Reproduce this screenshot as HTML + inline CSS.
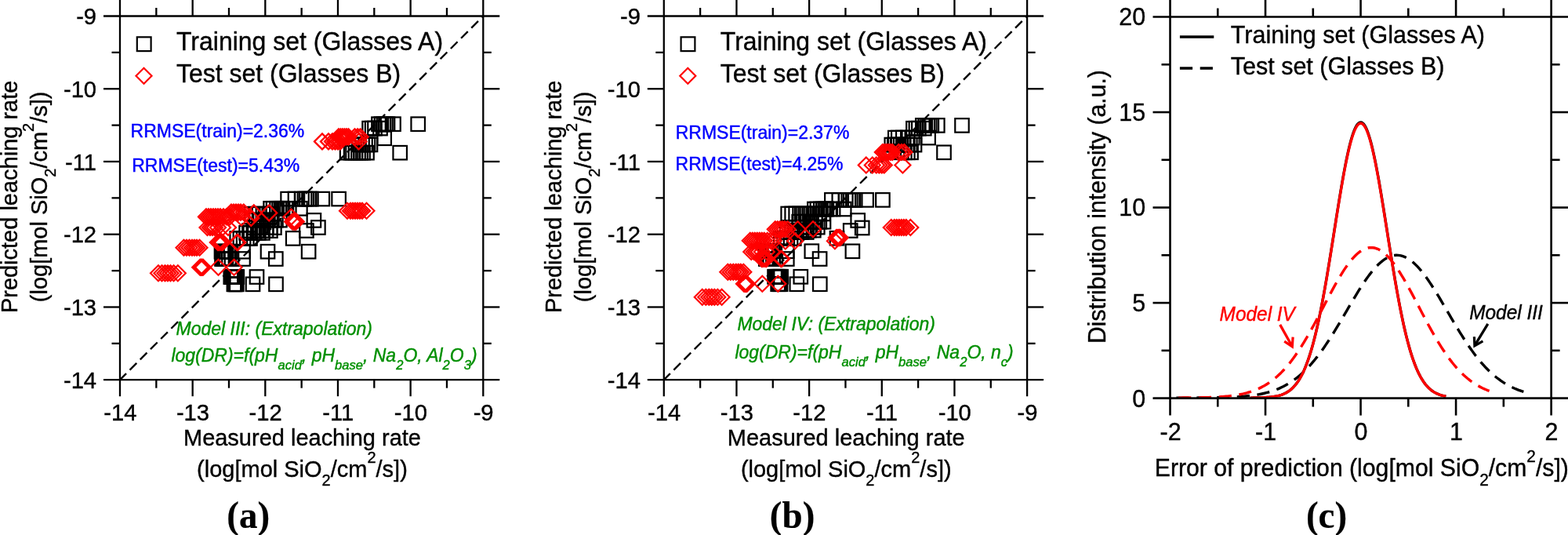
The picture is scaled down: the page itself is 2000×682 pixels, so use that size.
<!DOCTYPE html>
<html><head><meta charset="utf-8"><title>Figure</title>
<style>html,body{margin:0;padding:0;background:#fff;overflow:hidden;}svg{display:block;}</style>
</head><body>
<svg width="2000" height="682" viewBox="0 0 2000 682">
<rect width="2000" height="682" fill="#fff"/>
<line x1="153.00" y1="484.20" x2="616.30" y2="20.50" stroke="#000" stroke-width="2.4" stroke-dasharray="12.3 6.38" stroke-dashoffset="0.9"/>
<rect x="474.25" y="149.45" width="17.5" height="17.5" fill="none" stroke="#000" stroke-width="2.2"/>
<rect x="477.75" y="149.45" width="17.5" height="17.5" fill="none" stroke="#000" stroke-width="2.2"/>
<rect x="480.75" y="149.45" width="17.5" height="17.5" fill="none" stroke="#000" stroke-width="2.2"/>
<rect x="483.25" y="149.45" width="17.5" height="17.5" fill="none" stroke="#000" stroke-width="2.2"/>
<rect x="485.75" y="149.45" width="17.5" height="17.5" fill="none" stroke="#000" stroke-width="2.2"/>
<rect x="493.25" y="149.45" width="17.5" height="17.5" fill="none" stroke="#000" stroke-width="2.2"/>
<rect x="524.45" y="149.45" width="17.5" height="17.5" fill="none" stroke="#000" stroke-width="2.2"/>
<rect x="462.35" y="154.85" width="17.5" height="17.5" fill="none" stroke="#000" stroke-width="2.2"/>
<rect x="465.85" y="154.85" width="17.5" height="17.5" fill="none" stroke="#000" stroke-width="2.2"/>
<rect x="469.25" y="154.85" width="17.5" height="17.5" fill="none" stroke="#000" stroke-width="2.2"/>
<rect x="476.25" y="154.85" width="17.5" height="17.5" fill="none" stroke="#000" stroke-width="2.2"/>
<rect x="358.35" y="244.85" width="17.5" height="17.5" fill="none" stroke="#000" stroke-width="2.2"/>
<rect x="367.75" y="244.85" width="17.5" height="17.5" fill="none" stroke="#000" stroke-width="2.2"/>
<rect x="376.25" y="244.85" width="17.5" height="17.5" fill="none" stroke="#000" stroke-width="2.2"/>
<rect x="379.75" y="244.85" width="17.5" height="17.5" fill="none" stroke="#000" stroke-width="2.2"/>
<rect x="382.25" y="244.85" width="17.5" height="17.5" fill="none" stroke="#000" stroke-width="2.2"/>
<rect x="385.95" y="244.85" width="17.5" height="17.5" fill="none" stroke="#000" stroke-width="2.2"/>
<rect x="388.15" y="244.85" width="17.5" height="17.5" fill="none" stroke="#000" stroke-width="2.2"/>
<rect x="402.55" y="244.85" width="17.5" height="17.5" fill="none" stroke="#000" stroke-width="2.2"/>
<rect x="423.35" y="244.85" width="17.5" height="17.5" fill="none" stroke="#000" stroke-width="2.2"/>
<rect x="336.35" y="257.05" width="17.5" height="17.5" fill="none" stroke="#000" stroke-width="2.2"/>
<rect x="339.85" y="257.05" width="17.5" height="17.5" fill="none" stroke="#000" stroke-width="2.2"/>
<rect x="344.35" y="257.05" width="17.5" height="17.5" fill="none" stroke="#000" stroke-width="2.2"/>
<rect x="347.35" y="257.05" width="17.5" height="17.5" fill="none" stroke="#000" stroke-width="2.2"/>
<rect x="349.85" y="257.05" width="17.5" height="17.5" fill="none" stroke="#000" stroke-width="2.2"/>
<rect x="351.85" y="257.05" width="17.5" height="17.5" fill="none" stroke="#000" stroke-width="2.2"/>
<rect x="355.55" y="257.05" width="17.5" height="17.5" fill="none" stroke="#000" stroke-width="2.2"/>
<rect x="360.05" y="257.05" width="17.5" height="17.5" fill="none" stroke="#000" stroke-width="2.2"/>
<rect x="374.15" y="257.05" width="17.5" height="17.5" fill="none" stroke="#000" stroke-width="2.2"/>
<rect x="391.65" y="272.15" width="17.5" height="17.5" fill="none" stroke="#000" stroke-width="2.2"/>
<rect x="397.15" y="281.25" width="17.5" height="17.5" fill="none" stroke="#000" stroke-width="2.2"/>
<rect x="382.15" y="285.25" width="17.5" height="17.5" fill="none" stroke="#000" stroke-width="2.2"/>
<rect x="364.95" y="295.15" width="17.5" height="17.5" fill="none" stroke="#000" stroke-width="2.2"/>
<rect x="384.85" y="311.95" width="17.5" height="17.5" fill="none" stroke="#000" stroke-width="2.2"/>
<rect x="343.05" y="321.25" width="17.5" height="17.5" fill="none" stroke="#000" stroke-width="2.2"/>
<rect x="273.75" y="311.95" width="17.5" height="17.5" fill="none" stroke="#000" stroke-width="2.2"/>
<rect x="274.95" y="311.95" width="17.5" height="17.5" fill="none" stroke="#000" stroke-width="2.2"/>
<rect x="276.15" y="311.95" width="17.5" height="17.5" fill="none" stroke="#000" stroke-width="2.2"/>
<rect x="277.35" y="311.95" width="17.5" height="17.5" fill="none" stroke="#000" stroke-width="2.2"/>
<rect x="278.55" y="311.95" width="17.5" height="17.5" fill="none" stroke="#000" stroke-width="2.2"/>
<rect x="279.75" y="311.95" width="17.5" height="17.5" fill="none" stroke="#000" stroke-width="2.2"/>
<rect x="282.25" y="311.95" width="17.5" height="17.5" fill="none" stroke="#000" stroke-width="2.2"/>
<rect x="285.75" y="311.95" width="17.5" height="17.5" fill="none" stroke="#000" stroke-width="2.2"/>
<rect x="301.25" y="311.95" width="17.5" height="17.5" fill="none" stroke="#000" stroke-width="2.2"/>
<rect x="332.75" y="311.95" width="17.5" height="17.5" fill="none" stroke="#000" stroke-width="2.2"/>
<rect x="274.25" y="321.25" width="17.5" height="17.5" fill="none" stroke="#000" stroke-width="2.2"/>
<rect x="275.62" y="321.25" width="17.5" height="17.5" fill="none" stroke="#000" stroke-width="2.2"/>
<rect x="277.00" y="321.25" width="17.5" height="17.5" fill="none" stroke="#000" stroke-width="2.2"/>
<rect x="278.38" y="321.25" width="17.5" height="17.5" fill="none" stroke="#000" stroke-width="2.2"/>
<rect x="279.75" y="321.25" width="17.5" height="17.5" fill="none" stroke="#000" stroke-width="2.2"/>
<rect x="283.25" y="321.25" width="17.5" height="17.5" fill="none" stroke="#000" stroke-width="2.2"/>
<rect x="286.75" y="321.25" width="17.5" height="17.5" fill="none" stroke="#000" stroke-width="2.2"/>
<rect x="301.25" y="321.25" width="17.5" height="17.5" fill="none" stroke="#000" stroke-width="2.2"/>
<rect x="285.55" y="344.25" width="17.5" height="17.5" fill="none" stroke="#000" stroke-width="2.2"/>
<rect x="286.69" y="344.25" width="17.5" height="17.5" fill="none" stroke="#000" stroke-width="2.2"/>
<rect x="287.84" y="344.25" width="17.5" height="17.5" fill="none" stroke="#000" stroke-width="2.2"/>
<rect x="288.98" y="344.25" width="17.5" height="17.5" fill="none" stroke="#000" stroke-width="2.2"/>
<rect x="290.12" y="344.25" width="17.5" height="17.5" fill="none" stroke="#000" stroke-width="2.2"/>
<rect x="291.26" y="344.25" width="17.5" height="17.5" fill="none" stroke="#000" stroke-width="2.2"/>
<rect x="292.41" y="344.25" width="17.5" height="17.5" fill="none" stroke="#000" stroke-width="2.2"/>
<rect x="293.55" y="344.25" width="17.5" height="17.5" fill="none" stroke="#000" stroke-width="2.2"/>
<rect x="318.75" y="344.25" width="17.5" height="17.5" fill="none" stroke="#000" stroke-width="2.2"/>
<rect x="289.65" y="353.55" width="17.5" height="17.5" fill="none" stroke="#000" stroke-width="2.2"/>
<rect x="290.78" y="353.55" width="17.5" height="17.5" fill="none" stroke="#000" stroke-width="2.2"/>
<rect x="291.92" y="353.55" width="17.5" height="17.5" fill="none" stroke="#000" stroke-width="2.2"/>
<rect x="293.05" y="353.55" width="17.5" height="17.5" fill="none" stroke="#000" stroke-width="2.2"/>
<rect x="313.75" y="353.55" width="17.5" height="17.5" fill="none" stroke="#000" stroke-width="2.2"/>
<rect x="343.25" y="353.55" width="17.5" height="17.5" fill="none" stroke="#000" stroke-width="2.2"/>
<rect x="481.45" y="167.55" width="17.5" height="17.5" fill="none" stroke="#000" stroke-width="2.2"/>
<rect x="449.25" y="175.65" width="17.5" height="17.5" fill="none" stroke="#000" stroke-width="2.2"/>
<rect x="453.25" y="175.65" width="17.5" height="17.5" fill="none" stroke="#000" stroke-width="2.2"/>
<rect x="457.25" y="175.65" width="17.5" height="17.5" fill="none" stroke="#000" stroke-width="2.2"/>
<rect x="460.75" y="175.65" width="17.5" height="17.5" fill="none" stroke="#000" stroke-width="2.2"/>
<rect x="463.75" y="175.65" width="17.5" height="17.5" fill="none" stroke="#000" stroke-width="2.2"/>
<rect x="433.85" y="185.95" width="17.5" height="17.5" fill="none" stroke="#000" stroke-width="2.2"/>
<rect x="438.85" y="185.95" width="17.5" height="17.5" fill="none" stroke="#000" stroke-width="2.2"/>
<rect x="441.25" y="185.95" width="17.5" height="17.5" fill="none" stroke="#000" stroke-width="2.2"/>
<rect x="444.75" y="185.95" width="17.5" height="17.5" fill="none" stroke="#000" stroke-width="2.2"/>
<rect x="448.25" y="185.95" width="17.5" height="17.5" fill="none" stroke="#000" stroke-width="2.2"/>
<rect x="451.25" y="185.95" width="17.5" height="17.5" fill="none" stroke="#000" stroke-width="2.2"/>
<rect x="454.25" y="185.95" width="17.5" height="17.5" fill="none" stroke="#000" stroke-width="2.2"/>
<rect x="459.25" y="185.95" width="17.5" height="17.5" fill="none" stroke="#000" stroke-width="2.2"/>
<rect x="501.45" y="185.95" width="17.5" height="17.5" fill="none" stroke="#000" stroke-width="2.2"/>
<rect x="312.25" y="263.95" width="17.5" height="17.5" fill="none" stroke="#000" stroke-width="2.2"/>
<rect x="317.05" y="263.95" width="17.5" height="17.5" fill="none" stroke="#000" stroke-width="2.2"/>
<rect x="321.85" y="263.95" width="17.5" height="17.5" fill="none" stroke="#000" stroke-width="2.2"/>
<rect x="326.65" y="263.95" width="17.5" height="17.5" fill="none" stroke="#000" stroke-width="2.2"/>
<rect x="331.45" y="263.95" width="17.5" height="17.5" fill="none" stroke="#000" stroke-width="2.2"/>
<rect x="336.25" y="263.95" width="17.5" height="17.5" fill="none" stroke="#000" stroke-width="2.2"/>
<rect x="318.25" y="271.85" width="17.5" height="17.5" fill="none" stroke="#000" stroke-width="2.2"/>
<rect x="323.23" y="271.85" width="17.5" height="17.5" fill="none" stroke="#000" stroke-width="2.2"/>
<rect x="328.22" y="271.85" width="17.5" height="17.5" fill="none" stroke="#000" stroke-width="2.2"/>
<rect x="333.20" y="271.85" width="17.5" height="17.5" fill="none" stroke="#000" stroke-width="2.2"/>
<rect x="338.18" y="271.85" width="17.5" height="17.5" fill="none" stroke="#000" stroke-width="2.2"/>
<rect x="343.17" y="271.85" width="17.5" height="17.5" fill="none" stroke="#000" stroke-width="2.2"/>
<rect x="348.15" y="271.85" width="17.5" height="17.5" fill="none" stroke="#000" stroke-width="2.2"/>
<rect x="316.25" y="281.35" width="17.5" height="17.5" fill="none" stroke="#000" stroke-width="2.2"/>
<rect x="321.23" y="281.35" width="17.5" height="17.5" fill="none" stroke="#000" stroke-width="2.2"/>
<rect x="326.21" y="281.35" width="17.5" height="17.5" fill="none" stroke="#000" stroke-width="2.2"/>
<rect x="331.19" y="281.35" width="17.5" height="17.5" fill="none" stroke="#000" stroke-width="2.2"/>
<rect x="336.17" y="281.35" width="17.5" height="17.5" fill="none" stroke="#000" stroke-width="2.2"/>
<rect x="341.15" y="281.35" width="17.5" height="17.5" fill="none" stroke="#000" stroke-width="2.2"/>
<rect x="309.25" y="285.35" width="17.5" height="17.5" fill="none" stroke="#000" stroke-width="2.2"/>
<rect x="314.63" y="285.35" width="17.5" height="17.5" fill="none" stroke="#000" stroke-width="2.2"/>
<rect x="320.01" y="285.35" width="17.5" height="17.5" fill="none" stroke="#000" stroke-width="2.2"/>
<rect x="325.39" y="285.35" width="17.5" height="17.5" fill="none" stroke="#000" stroke-width="2.2"/>
<rect x="330.77" y="285.35" width="17.5" height="17.5" fill="none" stroke="#000" stroke-width="2.2"/>
<rect x="336.15" y="285.35" width="17.5" height="17.5" fill="none" stroke="#000" stroke-width="2.2"/>
<rect x="305.35" y="288.15" width="17.5" height="17.5" fill="none" stroke="#000" stroke-width="2.2"/>
<rect x="310.58" y="288.15" width="17.5" height="17.5" fill="none" stroke="#000" stroke-width="2.2"/>
<rect x="315.80" y="288.15" width="17.5" height="17.5" fill="none" stroke="#000" stroke-width="2.2"/>
<rect x="321.02" y="288.15" width="17.5" height="17.5" fill="none" stroke="#000" stroke-width="2.2"/>
<rect x="326.25" y="288.15" width="17.5" height="17.5" fill="none" stroke="#000" stroke-width="2.2"/>
<rect x="293.45" y="295.25" width="17.5" height="17.5" fill="none" stroke="#000" stroke-width="2.2"/>
<rect x="297.65" y="295.25" width="17.5" height="17.5" fill="none" stroke="#000" stroke-width="2.2"/>
<rect x="301.85" y="295.25" width="17.5" height="17.5" fill="none" stroke="#000" stroke-width="2.2"/>
<rect x="306.05" y="295.25" width="17.5" height="17.5" fill="none" stroke="#000" stroke-width="2.2"/>
<rect x="310.25" y="295.25" width="17.5" height="17.5" fill="none" stroke="#000" stroke-width="2.2"/>
<path d="M192.00 348.30L202.00 338.30L212.00 348.30L202.00 358.30Z" fill="none" stroke="#f00" stroke-width="2.2"/>
<path d="M196.50 348.30L206.50 338.30L216.50 348.30L206.50 358.30Z" fill="none" stroke="#f00" stroke-width="2.2"/>
<path d="M200.50 348.30L210.50 338.30L220.50 348.30L210.50 358.30Z" fill="none" stroke="#f00" stroke-width="2.2"/>
<path d="M204.00 348.30L214.00 338.30L224.00 348.30L214.00 358.30Z" fill="none" stroke="#f00" stroke-width="2.2"/>
<path d="M207.50 348.30L217.50 338.30L227.50 348.30L217.50 358.30Z" fill="none" stroke="#f00" stroke-width="2.2"/>
<path d="M211.50 348.30L221.50 338.30L231.50 348.30L221.50 358.30Z" fill="none" stroke="#f00" stroke-width="2.2"/>
<path d="M216.80 348.30L226.80 338.30L236.80 348.30L226.80 358.30Z" fill="none" stroke="#f00" stroke-width="2.2"/>
<path d="M245.20 340.80L255.20 330.80L265.20 340.80L255.20 350.80Z" fill="none" stroke="#f00" stroke-width="2.2"/>
<path d="M246.50 340.80L256.50 330.80L266.50 340.80L256.50 350.80Z" fill="none" stroke="#f00" stroke-width="2.2"/>
<path d="M247.80 340.80L257.80 330.80L267.80 340.80L257.80 350.80Z" fill="none" stroke="#f00" stroke-width="2.2"/>
<path d="M249.00 340.80L259.00 330.80L269.00 340.80L259.00 350.80Z" fill="none" stroke="#f00" stroke-width="2.2"/>
<path d="M268.50 340.80L278.50 330.80L288.50 340.80L278.50 350.80Z" fill="none" stroke="#f00" stroke-width="2.2"/>
<path d="M288.50 340.80L298.50 330.80L308.50 340.80L298.50 350.80Z" fill="none" stroke="#f00" stroke-width="2.2"/>
<path d="M224.50 315.70L234.50 305.70L244.50 315.70L234.50 325.70Z" fill="none" stroke="#f00" stroke-width="2.2"/>
<path d="M228.00 315.70L238.00 305.70L248.00 315.70L238.00 325.70Z" fill="none" stroke="#f00" stroke-width="2.2"/>
<path d="M231.50 315.70L241.50 305.70L251.50 315.70L241.50 325.70Z" fill="none" stroke="#f00" stroke-width="2.2"/>
<path d="M235.00 315.70L245.00 305.70L255.00 315.70L245.00 325.70Z" fill="none" stroke="#f00" stroke-width="2.2"/>
<path d="M238.00 315.70L248.00 305.70L258.00 315.70L248.00 325.70Z" fill="none" stroke="#f00" stroke-width="2.2"/>
<path d="M241.00 315.70L251.00 305.70L261.00 315.70L251.00 325.70Z" fill="none" stroke="#f00" stroke-width="2.2"/>
<path d="M244.50 315.70L254.50 305.70L264.50 315.70L254.50 325.70Z" fill="none" stroke="#f00" stroke-width="2.2"/>
<path d="M267.80 309.00L277.80 299.00L287.80 309.00L277.80 319.00Z" fill="none" stroke="#f00" stroke-width="2.2"/>
<path d="M269.50 309.00L279.50 299.00L289.50 309.00L279.50 319.00Z" fill="none" stroke="#f00" stroke-width="2.2"/>
<path d="M272.00 309.00L282.00 299.00L292.00 309.00L282.00 319.00Z" fill="none" stroke="#f00" stroke-width="2.2"/>
<path d="M273.80 309.00L283.80 299.00L293.80 309.00L283.80 319.00Z" fill="none" stroke="#f00" stroke-width="2.2"/>
<path d="M292.20 309.00L302.20 299.00L312.20 309.00L302.20 319.00Z" fill="none" stroke="#f00" stroke-width="2.2"/>
<path d="M293.40 309.00L303.40 299.00L313.40 309.00L303.40 319.00Z" fill="none" stroke="#f00" stroke-width="2.2"/>
<path d="M254.50 290.00L264.50 280.00L274.50 290.00L264.50 300.00Z" fill="none" stroke="#f00" stroke-width="2.2"/>
<path d="M258.00 290.00L268.00 280.00L278.00 290.00L268.00 300.00Z" fill="none" stroke="#f00" stroke-width="2.2"/>
<path d="M261.00 290.00L271.00 280.00L281.00 290.00L271.00 300.00Z" fill="none" stroke="#f00" stroke-width="2.2"/>
<path d="M264.00 290.00L274.00 280.00L284.00 290.00L274.00 300.00Z" fill="none" stroke="#f00" stroke-width="2.2"/>
<path d="M268.00 290.00L278.00 280.00L288.00 290.00L278.00 300.00Z" fill="none" stroke="#f00" stroke-width="2.2"/>
<path d="M274.00 290.00L284.00 280.00L294.00 290.00L284.00 300.00Z" fill="none" stroke="#f00" stroke-width="2.2"/>
<path d="M281.00 290.00L291.00 280.00L301.00 290.00L291.00 300.00Z" fill="none" stroke="#f00" stroke-width="2.2"/>
<path d="M253.00 276.40L263.00 266.40L273.00 276.40L263.00 286.40Z" fill="none" stroke="#f00" stroke-width="2.2"/>
<path d="M256.00 276.40L266.00 266.40L276.00 276.40L266.00 286.40Z" fill="none" stroke="#f00" stroke-width="2.2"/>
<path d="M259.00 276.40L269.00 266.40L279.00 276.40L269.00 286.40Z" fill="none" stroke="#f00" stroke-width="2.2"/>
<path d="M262.00 276.40L272.00 266.40L282.00 276.40L272.00 286.40Z" fill="none" stroke="#f00" stroke-width="2.2"/>
<path d="M265.00 276.40L275.00 266.40L285.00 276.40L275.00 286.40Z" fill="none" stroke="#f00" stroke-width="2.2"/>
<path d="M268.00 276.40L278.00 266.40L288.00 276.40L278.00 286.40Z" fill="none" stroke="#f00" stroke-width="2.2"/>
<path d="M271.00 276.40L281.00 266.40L291.00 276.40L281.00 286.40Z" fill="none" stroke="#f00" stroke-width="2.2"/>
<path d="M275.00 276.40L285.00 266.40L295.00 276.40L285.00 286.40Z" fill="none" stroke="#f00" stroke-width="2.2"/>
<path d="M279.00 276.40L289.00 266.40L299.00 276.40L289.00 286.40Z" fill="none" stroke="#f00" stroke-width="2.2"/>
<path d="M283.00 276.40L293.00 266.40L303.00 276.40L293.00 286.40Z" fill="none" stroke="#f00" stroke-width="2.2"/>
<path d="M298.00 277.50L308.00 267.50L318.00 277.50L308.00 287.50Z" fill="none" stroke="#f00" stroke-width="2.2"/>
<path d="M310.30 277.90L320.30 267.90L330.30 277.90L320.30 287.90Z" fill="none" stroke="#f00" stroke-width="2.2"/>
<path d="M285.00 270.60L295.00 260.60L305.00 270.60L295.00 280.60Z" fill="none" stroke="#f00" stroke-width="2.2"/>
<path d="M288.00 270.60L298.00 260.60L308.00 270.60L298.00 280.60Z" fill="none" stroke="#f00" stroke-width="2.2"/>
<path d="M291.00 270.60L301.00 260.60L311.00 270.60L301.00 280.60Z" fill="none" stroke="#f00" stroke-width="2.2"/>
<path d="M294.00 270.60L304.00 260.60L314.00 270.60L304.00 280.60Z" fill="none" stroke="#f00" stroke-width="2.2"/>
<path d="M297.00 270.60L307.00 260.60L317.00 270.60L307.00 280.60Z" fill="none" stroke="#f00" stroke-width="2.2"/>
<path d="M300.80 270.60L310.80 260.60L320.80 270.60L310.80 280.60Z" fill="none" stroke="#f00" stroke-width="2.2"/>
<path d="M313.80 271.40L323.80 261.40L333.80 271.40L323.80 281.40Z" fill="none" stroke="#f00" stroke-width="2.2"/>
<path d="M333.20 271.40L343.20 261.40L353.20 271.40L343.20 281.40Z" fill="none" stroke="#f00" stroke-width="2.2"/>
<path d="M433.00 268.70L443.00 258.70L453.00 268.70L443.00 278.70Z" fill="none" stroke="#f00" stroke-width="2.2"/>
<path d="M437.00 268.70L447.00 258.70L457.00 268.70L447.00 278.70Z" fill="none" stroke="#f00" stroke-width="2.2"/>
<path d="M440.00 268.70L450.00 258.70L460.00 268.70L450.00 278.70Z" fill="none" stroke="#f00" stroke-width="2.2"/>
<path d="M443.00 268.70L453.00 258.70L463.00 268.70L453.00 278.70Z" fill="none" stroke="#f00" stroke-width="2.2"/>
<path d="M446.00 268.70L456.00 258.70L466.00 268.70L456.00 278.70Z" fill="none" stroke="#f00" stroke-width="2.2"/>
<path d="M449.00 268.70L459.00 258.70L469.00 268.70L459.00 278.70Z" fill="none" stroke="#f00" stroke-width="2.2"/>
<path d="M452.00 268.70L462.00 258.70L472.00 268.70L462.00 278.70Z" fill="none" stroke="#f00" stroke-width="2.2"/>
<path d="M457.50 268.70L467.50 258.70L477.50 268.70L467.50 278.70Z" fill="none" stroke="#f00" stroke-width="2.2"/>
<path d="M401.00 180.40L411.00 170.40L421.00 180.40L411.00 190.40Z" fill="none" stroke="#f00" stroke-width="2.2"/>
<path d="M409.00 180.40L419.00 170.40L429.00 180.40L419.00 190.40Z" fill="none" stroke="#f00" stroke-width="2.2"/>
<path d="M414.00 180.40L424.00 170.40L434.00 180.40L424.00 190.40Z" fill="none" stroke="#f00" stroke-width="2.2"/>
<path d="M417.50 180.40L427.50 170.40L437.50 180.40L427.50 190.40Z" fill="none" stroke="#f00" stroke-width="2.2"/>
<path d="M421.00 180.40L431.00 170.40L441.00 180.40L431.00 190.40Z" fill="none" stroke="#f00" stroke-width="2.2"/>
<path d="M424.00 180.40L434.00 170.40L444.00 180.40L434.00 190.40Z" fill="none" stroke="#f00" stroke-width="2.2"/>
<path d="M447.60 180.40L457.60 170.40L467.60 180.40L457.60 190.40Z" fill="none" stroke="#f00" stroke-width="2.2"/>
<path d="M422.00 174.40L432.00 164.40L442.00 174.40L432.00 184.40Z" fill="none" stroke="#f00" stroke-width="2.2"/>
<path d="M424.50 174.40L434.50 164.40L444.50 174.40L434.50 184.40Z" fill="none" stroke="#f00" stroke-width="2.2"/>
<path d="M427.00 174.40L437.00 164.40L447.00 174.40L437.00 184.40Z" fill="none" stroke="#f00" stroke-width="2.2"/>
<path d="M429.50 174.40L439.50 164.40L449.50 174.40L439.50 184.40Z" fill="none" stroke="#f00" stroke-width="2.2"/>
<path d="M432.00 174.40L442.00 164.40L452.00 174.40L442.00 184.40Z" fill="none" stroke="#f00" stroke-width="2.2"/>
<path d="M434.50 174.40L444.50 164.40L454.50 174.40L444.50 184.40Z" fill="none" stroke="#f00" stroke-width="2.2"/>
<path d="M442.50 174.40L452.50 164.40L462.50 174.40L452.50 184.40Z" fill="none" stroke="#f00" stroke-width="2.2"/>
<path d="M446.20 174.40L456.20 164.40L466.20 174.40L456.20 184.40Z" fill="none" stroke="#f00" stroke-width="2.2"/>
<path d="M449.60 174.40L459.60 164.40L469.60 174.40L459.60 184.40Z" fill="none" stroke="#f00" stroke-width="2.2"/>
<path d="M361.40 276.50L371.40 266.50L381.40 276.50L371.40 286.50Z" fill="none" stroke="#f00" stroke-width="2.2"/>
<path d="M363.00 282.50L373.00 272.50L383.00 282.50L373.00 292.50Z" fill="none" stroke="#f00" stroke-width="2.2"/>
<path d="M364.20 282.50L374.20 272.50L384.20 282.50L374.20 292.50Z" fill="none" stroke="#f00" stroke-width="2.2"/>
<path d="M365.40 282.50L375.40 272.50L385.40 282.50L375.40 292.50Z" fill="none" stroke="#f00" stroke-width="2.2"/>
<path d="M366.60 282.50L376.60 272.50L386.60 282.50L376.60 292.50Z" fill="none" stroke="#f00" stroke-width="2.2"/>
<path d="M367.80 282.50L377.80 272.50L387.80 282.50L377.80 292.50Z" fill="none" stroke="#f00" stroke-width="2.2"/>
<line x1="132.00" y1="20.50" x2="637.30" y2="20.50" stroke="#000" stroke-width="2.3" />
<line x1="132.00" y1="484.20" x2="637.30" y2="484.20" stroke="#000" stroke-width="2.3" />
<line x1="153.00" y1="-0.50" x2="153.00" y2="505.20" stroke="#000" stroke-width="2.3" />
<line x1="616.30" y1="-0.50" x2="616.30" y2="505.20" stroke="#000" stroke-width="2.3" />
<line x1="199.33" y1="10.00" x2="199.33" y2="20.50" stroke="#000" stroke-width="2.3" />
<line x1="199.33" y1="484.20" x2="199.33" y2="494.70" stroke="#000" stroke-width="2.3" />
<line x1="245.66" y1="-0.50" x2="245.66" y2="20.50" stroke="#000" stroke-width="2.3" />
<line x1="245.66" y1="484.20" x2="245.66" y2="505.20" stroke="#000" stroke-width="2.3" />
<line x1="291.99" y1="10.00" x2="291.99" y2="20.50" stroke="#000" stroke-width="2.3" />
<line x1="291.99" y1="484.20" x2="291.99" y2="494.70" stroke="#000" stroke-width="2.3" />
<line x1="338.32" y1="-0.50" x2="338.32" y2="20.50" stroke="#000" stroke-width="2.3" />
<line x1="338.32" y1="484.20" x2="338.32" y2="505.20" stroke="#000" stroke-width="2.3" />
<line x1="384.65" y1="10.00" x2="384.65" y2="20.50" stroke="#000" stroke-width="2.3" />
<line x1="384.65" y1="484.20" x2="384.65" y2="494.70" stroke="#000" stroke-width="2.3" />
<line x1="430.98" y1="-0.50" x2="430.98" y2="20.50" stroke="#000" stroke-width="2.3" />
<line x1="430.98" y1="484.20" x2="430.98" y2="505.20" stroke="#000" stroke-width="2.3" />
<line x1="477.31" y1="10.00" x2="477.31" y2="20.50" stroke="#000" stroke-width="2.3" />
<line x1="477.31" y1="484.20" x2="477.31" y2="494.70" stroke="#000" stroke-width="2.3" />
<line x1="523.64" y1="-0.50" x2="523.64" y2="20.50" stroke="#000" stroke-width="2.3" />
<line x1="523.64" y1="484.20" x2="523.64" y2="505.20" stroke="#000" stroke-width="2.3" />
<line x1="569.97" y1="10.00" x2="569.97" y2="20.50" stroke="#000" stroke-width="2.3" />
<line x1="569.97" y1="484.20" x2="569.97" y2="494.70" stroke="#000" stroke-width="2.3" />
<line x1="142.50" y1="66.87" x2="153.00" y2="66.87" stroke="#000" stroke-width="2.3" />
<line x1="616.30" y1="66.87" x2="626.80" y2="66.87" stroke="#000" stroke-width="2.3" />
<line x1="132.00" y1="113.24" x2="153.00" y2="113.24" stroke="#000" stroke-width="2.3" />
<line x1="616.30" y1="113.24" x2="637.30" y2="113.24" stroke="#000" stroke-width="2.3" />
<line x1="142.50" y1="159.61" x2="153.00" y2="159.61" stroke="#000" stroke-width="2.3" />
<line x1="616.30" y1="159.61" x2="626.80" y2="159.61" stroke="#000" stroke-width="2.3" />
<line x1="132.00" y1="205.98" x2="153.00" y2="205.98" stroke="#000" stroke-width="2.3" />
<line x1="616.30" y1="205.98" x2="637.30" y2="205.98" stroke="#000" stroke-width="2.3" />
<line x1="142.50" y1="252.35" x2="153.00" y2="252.35" stroke="#000" stroke-width="2.3" />
<line x1="616.30" y1="252.35" x2="626.80" y2="252.35" stroke="#000" stroke-width="2.3" />
<line x1="132.00" y1="298.72" x2="153.00" y2="298.72" stroke="#000" stroke-width="2.3" />
<line x1="616.30" y1="298.72" x2="637.30" y2="298.72" stroke="#000" stroke-width="2.3" />
<line x1="142.50" y1="345.09" x2="153.00" y2="345.09" stroke="#000" stroke-width="2.3" />
<line x1="616.30" y1="345.09" x2="626.80" y2="345.09" stroke="#000" stroke-width="2.3" />
<line x1="132.00" y1="391.46" x2="153.00" y2="391.46" stroke="#000" stroke-width="2.3" />
<line x1="616.30" y1="391.46" x2="637.30" y2="391.46" stroke="#000" stroke-width="2.3" />
<line x1="142.50" y1="437.83" x2="153.00" y2="437.83" stroke="#000" stroke-width="2.3" />
<line x1="616.30" y1="437.83" x2="626.80" y2="437.83" stroke="#000" stroke-width="2.3" />
<text x="0" y="0" text-anchor="end" fill="#000" stroke="#000" stroke-width="0.38" style="font-family:'Liberation Sans',sans-serif;font-size:29.2px;" transform="translate(123.10 31.10) scale(1 1.01)">-9</text>
<text x="0" y="0" text-anchor="end" fill="#000" stroke="#000" stroke-width="0.38" style="font-family:'Liberation Sans',sans-serif;font-size:29.2px;" transform="translate(123.10 123.84) scale(1 1.01)">-10</text>
<text x="0" y="0" text-anchor="end" fill="#000" stroke="#000" stroke-width="0.38" style="font-family:'Liberation Sans',sans-serif;font-size:29.2px;" transform="translate(123.10 216.58) scale(1 1.01)">-11</text>
<text x="0" y="0" text-anchor="end" fill="#000" stroke="#000" stroke-width="0.38" style="font-family:'Liberation Sans',sans-serif;font-size:29.2px;" transform="translate(123.10 309.32) scale(1 1.01)">-12</text>
<text x="0" y="0" text-anchor="end" fill="#000" stroke="#000" stroke-width="0.38" style="font-family:'Liberation Sans',sans-serif;font-size:29.2px;" transform="translate(123.10 402.06) scale(1 1.01)">-13</text>
<text x="0" y="0" text-anchor="end" fill="#000" stroke="#000" stroke-width="0.38" style="font-family:'Liberation Sans',sans-serif;font-size:29.2px;" transform="translate(123.10 494.80) scale(1 1.01)">-14</text>
<text x="0" y="0" text-anchor="middle" fill="#000" stroke="#000" stroke-width="0.38" style="font-family:'Liberation Sans',sans-serif;font-size:29.2px;" transform="translate(153.30 536.20) scale(1 1.01)">-14</text>
<text x="0" y="0" text-anchor="middle" fill="#000" stroke="#000" stroke-width="0.38" style="font-family:'Liberation Sans',sans-serif;font-size:29.2px;" transform="translate(245.96 536.20) scale(1 1.01)">-13</text>
<text x="0" y="0" text-anchor="middle" fill="#000" stroke="#000" stroke-width="0.38" style="font-family:'Liberation Sans',sans-serif;font-size:29.2px;" transform="translate(338.62 536.20) scale(1 1.01)">-12</text>
<text x="0" y="0" text-anchor="middle" fill="#000" stroke="#000" stroke-width="0.38" style="font-family:'Liberation Sans',sans-serif;font-size:29.2px;" transform="translate(431.28 536.20) scale(1 1.01)">-11</text>
<text x="0" y="0" text-anchor="middle" fill="#000" stroke="#000" stroke-width="0.38" style="font-family:'Liberation Sans',sans-serif;font-size:29.2px;" transform="translate(523.94 536.20) scale(1 1.01)">-10</text>
<text x="0" y="0" text-anchor="middle" fill="#000" stroke="#000" stroke-width="0.38" style="font-family:'Liberation Sans',sans-serif;font-size:29.2px;" transform="translate(616.60 536.20) scale(1 1.01)">-9</text>
<text x="0" y="0" text-anchor="middle" fill="#000" stroke="#000" stroke-width="0.38" style="font-family:'Liberation Sans',sans-serif;font-size:29px;" transform="translate(385.45 567.50) scale(1 1.035)">Measured leaching rate</text>
<text x="0" y="0" text-anchor="middle" fill="#000" stroke="#000" stroke-width="0.38" style="font-family:'Liberation Sans',sans-serif;font-size:29px;" transform="translate(385.45 607.50) scale(1 1.035)">(log[mol SiO<tspan font-size="20.0" dy="10.9">2</tspan><tspan dy="-10.9">/cm</tspan><tspan font-size="20.0" dy="-16.6">2</tspan><tspan dy="16.6">/s])</tspan></text>
<text x="0" y="0" text-anchor="middle" fill="#000" stroke="#000" stroke-width="0.38" style="font-family:'Liberation Sans',sans-serif;font-size:29px;" transform="translate(21.90 250.85) rotate(-90) scale(1 1.035)">Predicted leaching rate</text>
<text x="0" y="0" text-anchor="middle" fill="#000" stroke="#000" stroke-width="0.38" style="font-family:'Liberation Sans',sans-serif;font-size:29px;" transform="translate(59.80 250.85) rotate(-90) scale(1 1.035)">(log[mol SiO<tspan font-size="20.0" dy="10.9">2</tspan><tspan dy="-10.9">/cm</tspan><tspan font-size="20.0" dy="-16.6">2</tspan><tspan dy="16.6">/s])</tspan></text>
<rect x="174.80" y="47.30" width="17.8" height="17.8" fill="none" stroke="#000" stroke-width="2.2"/>
<path d="M173.50 96.80L183.50 86.80L193.50 96.80L183.50 106.80Z" fill="none" stroke="#f00" stroke-width="2.2"/>
<text x="0" y="0" text-anchor="start" fill="#000" stroke="#000" stroke-width="0.38" style="font-family:'Liberation Sans',sans-serif;font-size:32px;" transform="translate(225.00 64.30) scale(1 1.035)">Training set (Glasses A)</text>
<text x="0" y="0" text-anchor="start" fill="#000" stroke="#000" stroke-width="0.38" style="font-family:'Liberation Sans',sans-serif;font-size:32px;" transform="translate(225.00 105.20) scale(1 1.035)">Test set (Glasses B)</text>
<text x="0" y="0" text-anchor="start" fill="#0000ff" stroke="#0000ff" stroke-width="0.45" style="font-family:'Liberation Sans',sans-serif;font-size:23px;" transform="translate(166.60 175.30) scale(1 1.035)">RRMSE(train)=2.36%</text>
<text x="0" y="0" text-anchor="start" fill="#0000ff" stroke="#0000ff" stroke-width="0.45" style="font-family:'Liberation Sans',sans-serif;font-size:23px;" transform="translate(168.20 218.80) scale(1 1.035)">RRMSE(test)=5.43%</text>
<text x="0" y="0" text-anchor="start" fill="#008f00" stroke="#008f00" stroke-width="0.4" style="font-family:'Liberation Sans',sans-serif;font-size:23px;font-style:italic" transform="translate(224.60 426.60) scale(1 1.035)">Model III: (Extrapolation)</text>
<text x="0" y="0" text-anchor="start" fill="#008f00" stroke="#008f00" stroke-width="0.4" style="font-family:'Liberation Sans',sans-serif;font-size:23px;font-style:italic" transform="translate(218.40 461.40) scale(1 1.035)">log(DR)=f(pH<tspan font-size="16.6" dy="9.3">acid</tspan><tspan dy="-9.3">, pH</tspan><tspan font-size="16.6" dy="9.3">base</tspan><tspan dy="-9.3">, Na</tspan><tspan font-size="16.6" dy="9.3">2</tspan><tspan dy="-9.3">O, Al</tspan><tspan font-size="16.6" dy="9.3">2</tspan><tspan dy="-9.3">O</tspan><tspan font-size="16.6" dy="9.3">3</tspan><tspan dy="-9.3">)</tspan></text>
<text x="0" y="0" text-anchor="middle" fill="#000" stroke="#000" stroke-width="0.2" style="font-family:'Liberation Serif',serif;font-size:47px;font-weight:bold" transform="translate(316.75 672.70) scale(1 1.02)">(a)</text>
<line x1="846.80" y1="484.20" x2="1310.10" y2="20.50" stroke="#000" stroke-width="2.4" stroke-dasharray="12.3 6.38" stroke-dashoffset="0.9"/>
<rect x="1168.05" y="151.15" width="17.5" height="17.5" fill="none" stroke="#000" stroke-width="2.2"/>
<rect x="1171.55" y="151.15" width="17.5" height="17.5" fill="none" stroke="#000" stroke-width="2.2"/>
<rect x="1174.55" y="151.15" width="17.5" height="17.5" fill="none" stroke="#000" stroke-width="2.2"/>
<rect x="1177.05" y="151.15" width="17.5" height="17.5" fill="none" stroke="#000" stroke-width="2.2"/>
<rect x="1179.55" y="151.15" width="17.5" height="17.5" fill="none" stroke="#000" stroke-width="2.2"/>
<rect x="1187.05" y="151.15" width="17.5" height="17.5" fill="none" stroke="#000" stroke-width="2.2"/>
<rect x="1218.25" y="151.15" width="17.5" height="17.5" fill="none" stroke="#000" stroke-width="2.2"/>
<rect x="1156.15" y="154.95" width="17.5" height="17.5" fill="none" stroke="#000" stroke-width="2.2"/>
<rect x="1159.65" y="154.95" width="17.5" height="17.5" fill="none" stroke="#000" stroke-width="2.2"/>
<rect x="1163.05" y="154.95" width="17.5" height="17.5" fill="none" stroke="#000" stroke-width="2.2"/>
<rect x="1170.05" y="154.95" width="17.5" height="17.5" fill="none" stroke="#000" stroke-width="2.2"/>
<rect x="1052.15" y="246.15" width="17.5" height="17.5" fill="none" stroke="#000" stroke-width="2.2"/>
<rect x="1061.55" y="246.15" width="17.5" height="17.5" fill="none" stroke="#000" stroke-width="2.2"/>
<rect x="1070.05" y="246.15" width="17.5" height="17.5" fill="none" stroke="#000" stroke-width="2.2"/>
<rect x="1073.55" y="246.15" width="17.5" height="17.5" fill="none" stroke="#000" stroke-width="2.2"/>
<rect x="1076.05" y="246.15" width="17.5" height="17.5" fill="none" stroke="#000" stroke-width="2.2"/>
<rect x="1079.75" y="246.15" width="17.5" height="17.5" fill="none" stroke="#000" stroke-width="2.2"/>
<rect x="1081.95" y="246.15" width="17.5" height="17.5" fill="none" stroke="#000" stroke-width="2.2"/>
<rect x="1096.35" y="246.15" width="17.5" height="17.5" fill="none" stroke="#000" stroke-width="2.2"/>
<rect x="1117.15" y="246.15" width="17.5" height="17.5" fill="none" stroke="#000" stroke-width="2.2"/>
<rect x="1030.15" y="257.75" width="17.5" height="17.5" fill="none" stroke="#000" stroke-width="2.2"/>
<rect x="1033.65" y="257.75" width="17.5" height="17.5" fill="none" stroke="#000" stroke-width="2.2"/>
<rect x="1038.15" y="257.75" width="17.5" height="17.5" fill="none" stroke="#000" stroke-width="2.2"/>
<rect x="1041.15" y="257.75" width="17.5" height="17.5" fill="none" stroke="#000" stroke-width="2.2"/>
<rect x="1043.65" y="257.75" width="17.5" height="17.5" fill="none" stroke="#000" stroke-width="2.2"/>
<rect x="1045.65" y="257.75" width="17.5" height="17.5" fill="none" stroke="#000" stroke-width="2.2"/>
<rect x="1049.35" y="257.75" width="17.5" height="17.5" fill="none" stroke="#000" stroke-width="2.2"/>
<rect x="1053.85" y="257.75" width="17.5" height="17.5" fill="none" stroke="#000" stroke-width="2.2"/>
<rect x="1067.95" y="257.75" width="17.5" height="17.5" fill="none" stroke="#000" stroke-width="2.2"/>
<rect x="1085.45" y="272.25" width="17.5" height="17.5" fill="none" stroke="#000" stroke-width="2.2"/>
<rect x="1090.95" y="281.75" width="17.5" height="17.5" fill="none" stroke="#000" stroke-width="2.2"/>
<rect x="1075.95" y="285.25" width="17.5" height="17.5" fill="none" stroke="#000" stroke-width="2.2"/>
<rect x="1058.75" y="294.95" width="17.5" height="17.5" fill="none" stroke="#000" stroke-width="2.2"/>
<rect x="1078.65" y="311.55" width="17.5" height="17.5" fill="none" stroke="#000" stroke-width="2.2"/>
<rect x="1036.85" y="321.25" width="17.5" height="17.5" fill="none" stroke="#000" stroke-width="2.2"/>
<rect x="967.55" y="311.45" width="17.5" height="17.5" fill="none" stroke="#000" stroke-width="2.2"/>
<rect x="968.75" y="311.45" width="17.5" height="17.5" fill="none" stroke="#000" stroke-width="2.2"/>
<rect x="969.95" y="311.45" width="17.5" height="17.5" fill="none" stroke="#000" stroke-width="2.2"/>
<rect x="971.15" y="311.45" width="17.5" height="17.5" fill="none" stroke="#000" stroke-width="2.2"/>
<rect x="972.35" y="311.45" width="17.5" height="17.5" fill="none" stroke="#000" stroke-width="2.2"/>
<rect x="973.55" y="311.45" width="17.5" height="17.5" fill="none" stroke="#000" stroke-width="2.2"/>
<rect x="976.05" y="311.45" width="17.5" height="17.5" fill="none" stroke="#000" stroke-width="2.2"/>
<rect x="979.55" y="311.45" width="17.5" height="17.5" fill="none" stroke="#000" stroke-width="2.2"/>
<rect x="995.05" y="311.45" width="17.5" height="17.5" fill="none" stroke="#000" stroke-width="2.2"/>
<rect x="1026.55" y="311.45" width="17.5" height="17.5" fill="none" stroke="#000" stroke-width="2.2"/>
<rect x="968.05" y="321.25" width="17.5" height="17.5" fill="none" stroke="#000" stroke-width="2.2"/>
<rect x="969.42" y="321.25" width="17.5" height="17.5" fill="none" stroke="#000" stroke-width="2.2"/>
<rect x="970.80" y="321.25" width="17.5" height="17.5" fill="none" stroke="#000" stroke-width="2.2"/>
<rect x="972.17" y="321.25" width="17.5" height="17.5" fill="none" stroke="#000" stroke-width="2.2"/>
<rect x="973.55" y="321.25" width="17.5" height="17.5" fill="none" stroke="#000" stroke-width="2.2"/>
<rect x="977.05" y="321.25" width="17.5" height="17.5" fill="none" stroke="#000" stroke-width="2.2"/>
<rect x="980.55" y="321.25" width="17.5" height="17.5" fill="none" stroke="#000" stroke-width="2.2"/>
<rect x="995.05" y="321.25" width="17.5" height="17.5" fill="none" stroke="#000" stroke-width="2.2"/>
<rect x="979.35" y="344.05" width="17.5" height="17.5" fill="none" stroke="#000" stroke-width="2.2"/>
<rect x="980.49" y="344.05" width="17.5" height="17.5" fill="none" stroke="#000" stroke-width="2.2"/>
<rect x="981.64" y="344.05" width="17.5" height="17.5" fill="none" stroke="#000" stroke-width="2.2"/>
<rect x="982.78" y="344.05" width="17.5" height="17.5" fill="none" stroke="#000" stroke-width="2.2"/>
<rect x="983.92" y="344.05" width="17.5" height="17.5" fill="none" stroke="#000" stroke-width="2.2"/>
<rect x="985.06" y="344.05" width="17.5" height="17.5" fill="none" stroke="#000" stroke-width="2.2"/>
<rect x="986.21" y="344.05" width="17.5" height="17.5" fill="none" stroke="#000" stroke-width="2.2"/>
<rect x="987.35" y="344.05" width="17.5" height="17.5" fill="none" stroke="#000" stroke-width="2.2"/>
<rect x="1012.55" y="344.05" width="17.5" height="17.5" fill="none" stroke="#000" stroke-width="2.2"/>
<rect x="983.45" y="353.45" width="17.5" height="17.5" fill="none" stroke="#000" stroke-width="2.2"/>
<rect x="984.58" y="353.45" width="17.5" height="17.5" fill="none" stroke="#000" stroke-width="2.2"/>
<rect x="985.72" y="353.45" width="17.5" height="17.5" fill="none" stroke="#000" stroke-width="2.2"/>
<rect x="986.85" y="353.45" width="17.5" height="17.5" fill="none" stroke="#000" stroke-width="2.2"/>
<rect x="1007.55" y="353.45" width="17.5" height="17.5" fill="none" stroke="#000" stroke-width="2.2"/>
<rect x="1037.05" y="353.45" width="17.5" height="17.5" fill="none" stroke="#000" stroke-width="2.2"/>
<rect x="1133.05" y="166.85" width="17.5" height="17.5" fill="none" stroke="#000" stroke-width="2.2"/>
<rect x="1137.05" y="166.85" width="17.5" height="17.5" fill="none" stroke="#000" stroke-width="2.2"/>
<rect x="1143.05" y="166.85" width="17.5" height="17.5" fill="none" stroke="#000" stroke-width="2.2"/>
<rect x="1149.05" y="166.85" width="17.5" height="17.5" fill="none" stroke="#000" stroke-width="2.2"/>
<rect x="1155.05" y="166.85" width="17.5" height="17.5" fill="none" stroke="#000" stroke-width="2.2"/>
<rect x="1175.35" y="166.85" width="17.5" height="17.5" fill="none" stroke="#000" stroke-width="2.2"/>
<rect x="1128.55" y="175.85" width="17.5" height="17.5" fill="none" stroke="#000" stroke-width="2.2"/>
<rect x="1132.05" y="175.85" width="17.5" height="17.5" fill="none" stroke="#000" stroke-width="2.2"/>
<rect x="1136.05" y="175.85" width="17.5" height="17.5" fill="none" stroke="#000" stroke-width="2.2"/>
<rect x="1140.05" y="175.85" width="17.5" height="17.5" fill="none" stroke="#000" stroke-width="2.2"/>
<rect x="1144.05" y="175.85" width="17.5" height="17.5" fill="none" stroke="#000" stroke-width="2.2"/>
<rect x="1148.05" y="175.85" width="17.5" height="17.5" fill="none" stroke="#000" stroke-width="2.2"/>
<rect x="1152.05" y="175.85" width="17.5" height="17.5" fill="none" stroke="#000" stroke-width="2.2"/>
<rect x="1157.75" y="175.85" width="17.5" height="17.5" fill="none" stroke="#000" stroke-width="2.2"/>
<rect x="1141.05" y="185.55" width="17.5" height="17.5" fill="none" stroke="#000" stroke-width="2.2"/>
<rect x="1145.05" y="185.55" width="17.5" height="17.5" fill="none" stroke="#000" stroke-width="2.2"/>
<rect x="1149.05" y="185.55" width="17.5" height="17.5" fill="none" stroke="#000" stroke-width="2.2"/>
<rect x="1153.25" y="185.55" width="17.5" height="17.5" fill="none" stroke="#000" stroke-width="2.2"/>
<rect x="1195.25" y="185.55" width="17.5" height="17.5" fill="none" stroke="#000" stroke-width="2.2"/>
<rect x="996.45" y="263.75" width="17.5" height="17.5" fill="none" stroke="#000" stroke-width="2.2"/>
<rect x="1001.43" y="263.75" width="17.5" height="17.5" fill="none" stroke="#000" stroke-width="2.2"/>
<rect x="1006.41" y="263.75" width="17.5" height="17.5" fill="none" stroke="#000" stroke-width="2.2"/>
<rect x="1011.38" y="263.75" width="17.5" height="17.5" fill="none" stroke="#000" stroke-width="2.2"/>
<rect x="1016.36" y="263.75" width="17.5" height="17.5" fill="none" stroke="#000" stroke-width="2.2"/>
<rect x="1021.34" y="263.75" width="17.5" height="17.5" fill="none" stroke="#000" stroke-width="2.2"/>
<rect x="1026.32" y="263.75" width="17.5" height="17.5" fill="none" stroke="#000" stroke-width="2.2"/>
<rect x="1031.29" y="263.75" width="17.5" height="17.5" fill="none" stroke="#000" stroke-width="2.2"/>
<rect x="1036.27" y="263.75" width="17.5" height="17.5" fill="none" stroke="#000" stroke-width="2.2"/>
<rect x="1041.25" y="263.75" width="17.5" height="17.5" fill="none" stroke="#000" stroke-width="2.2"/>
<rect x="1010.45" y="273.95" width="17.5" height="17.5" fill="none" stroke="#000" stroke-width="2.2"/>
<rect x="1015.67" y="273.95" width="17.5" height="17.5" fill="none" stroke="#000" stroke-width="2.2"/>
<rect x="1020.88" y="273.95" width="17.5" height="17.5" fill="none" stroke="#000" stroke-width="2.2"/>
<rect x="1026.10" y="273.95" width="17.5" height="17.5" fill="none" stroke="#000" stroke-width="2.2"/>
<rect x="1031.32" y="273.95" width="17.5" height="17.5" fill="none" stroke="#000" stroke-width="2.2"/>
<rect x="1036.53" y="273.95" width="17.5" height="17.5" fill="none" stroke="#000" stroke-width="2.2"/>
<rect x="1041.75" y="273.95" width="17.5" height="17.5" fill="none" stroke="#000" stroke-width="2.2"/>
<rect x="1020.05" y="280.85" width="17.5" height="17.5" fill="none" stroke="#000" stroke-width="2.2"/>
<rect x="1024.72" y="280.85" width="17.5" height="17.5" fill="none" stroke="#000" stroke-width="2.2"/>
<rect x="1029.38" y="280.85" width="17.5" height="17.5" fill="none" stroke="#000" stroke-width="2.2"/>
<rect x="1034.05" y="280.85" width="17.5" height="17.5" fill="none" stroke="#000" stroke-width="2.2"/>
<rect x="1005.05" y="284.85" width="17.5" height="17.5" fill="none" stroke="#000" stroke-width="2.2"/>
<rect x="1011.05" y="284.85" width="17.5" height="17.5" fill="none" stroke="#000" stroke-width="2.2"/>
<rect x="1017.05" y="284.85" width="17.5" height="17.5" fill="none" stroke="#000" stroke-width="2.2"/>
<rect x="1023.05" y="284.85" width="17.5" height="17.5" fill="none" stroke="#000" stroke-width="2.2"/>
<rect x="1029.05" y="284.85" width="17.5" height="17.5" fill="none" stroke="#000" stroke-width="2.2"/>
<rect x="995.05" y="287.25" width="17.5" height="17.5" fill="none" stroke="#000" stroke-width="2.2"/>
<rect x="1001.30" y="287.25" width="17.5" height="17.5" fill="none" stroke="#000" stroke-width="2.2"/>
<rect x="1007.55" y="287.25" width="17.5" height="17.5" fill="none" stroke="#000" stroke-width="2.2"/>
<rect x="1013.80" y="287.25" width="17.5" height="17.5" fill="none" stroke="#000" stroke-width="2.2"/>
<rect x="1020.05" y="287.25" width="17.5" height="17.5" fill="none" stroke="#000" stroke-width="2.2"/>
<rect x="987.05" y="295.35" width="17.5" height="17.5" fill="none" stroke="#000" stroke-width="2.2"/>
<rect x="991.30" y="295.35" width="17.5" height="17.5" fill="none" stroke="#000" stroke-width="2.2"/>
<rect x="995.55" y="295.35" width="17.5" height="17.5" fill="none" stroke="#000" stroke-width="2.2"/>
<rect x="999.80" y="295.35" width="17.5" height="17.5" fill="none" stroke="#000" stroke-width="2.2"/>
<rect x="1004.05" y="295.35" width="17.5" height="17.5" fill="none" stroke="#000" stroke-width="2.2"/>
<path d="M885.80 378.70L895.80 368.70L905.80 378.70L895.80 388.70Z" fill="none" stroke="#f00" stroke-width="2.2"/>
<path d="M890.30 378.70L900.30 368.70L910.30 378.70L900.30 388.70Z" fill="none" stroke="#f00" stroke-width="2.2"/>
<path d="M894.30 378.70L904.30 368.70L914.30 378.70L904.30 388.70Z" fill="none" stroke="#f00" stroke-width="2.2"/>
<path d="M897.80 378.70L907.80 368.70L917.80 378.70L907.80 388.70Z" fill="none" stroke="#f00" stroke-width="2.2"/>
<path d="M901.30 378.70L911.30 368.70L921.30 378.70L911.30 388.70Z" fill="none" stroke="#f00" stroke-width="2.2"/>
<path d="M905.30 378.70L915.30 368.70L925.30 378.70L915.30 388.70Z" fill="none" stroke="#f00" stroke-width="2.2"/>
<path d="M910.60 378.70L920.60 368.70L930.60 378.70L920.60 388.70Z" fill="none" stroke="#f00" stroke-width="2.2"/>
<path d="M939.00 361.80L949.00 351.80L959.00 361.80L949.00 371.80Z" fill="none" stroke="#f00" stroke-width="2.2"/>
<path d="M940.30 361.80L950.30 351.80L960.30 361.80L950.30 371.80Z" fill="none" stroke="#f00" stroke-width="2.2"/>
<path d="M941.60 361.80L951.60 351.80L961.60 361.80L951.60 371.80Z" fill="none" stroke="#f00" stroke-width="2.2"/>
<path d="M942.80 361.80L952.80 351.80L962.80 361.80L952.80 371.80Z" fill="none" stroke="#f00" stroke-width="2.2"/>
<path d="M962.30 361.80L972.30 351.80L982.30 361.80L972.30 371.80Z" fill="none" stroke="#f00" stroke-width="2.2"/>
<path d="M982.30 361.80L992.30 351.80L1002.30 361.80L992.30 371.80Z" fill="none" stroke="#f00" stroke-width="2.2"/>
<path d="M918.30 346.80L928.30 336.80L938.30 346.80L928.30 356.80Z" fill="none" stroke="#f00" stroke-width="2.2"/>
<path d="M921.80 346.80L931.80 336.80L941.80 346.80L931.80 356.80Z" fill="none" stroke="#f00" stroke-width="2.2"/>
<path d="M925.30 346.80L935.30 336.80L945.30 346.80L935.30 356.80Z" fill="none" stroke="#f00" stroke-width="2.2"/>
<path d="M928.80 346.80L938.80 336.80L948.80 346.80L938.80 356.80Z" fill="none" stroke="#f00" stroke-width="2.2"/>
<path d="M931.80 346.80L941.80 336.80L951.80 346.80L941.80 356.80Z" fill="none" stroke="#f00" stroke-width="2.2"/>
<path d="M934.80 346.80L944.80 336.80L954.80 346.80L944.80 356.80Z" fill="none" stroke="#f00" stroke-width="2.2"/>
<path d="M938.30 346.80L948.30 336.80L958.30 346.80L948.30 356.80Z" fill="none" stroke="#f00" stroke-width="2.2"/>
<path d="M961.60 330.00L971.60 320.00L981.60 330.00L971.60 340.00Z" fill="none" stroke="#f00" stroke-width="2.2"/>
<path d="M963.30 330.00L973.30 320.00L983.30 330.00L973.30 340.00Z" fill="none" stroke="#f00" stroke-width="2.2"/>
<path d="M965.80 330.00L975.80 320.00L985.80 330.00L975.80 340.00Z" fill="none" stroke="#f00" stroke-width="2.2"/>
<path d="M967.60 330.00L977.60 320.00L987.60 330.00L977.60 340.00Z" fill="none" stroke="#f00" stroke-width="2.2"/>
<path d="M986.00 330.00L996.00 320.00L1006.00 330.00L996.00 340.00Z" fill="none" stroke="#f00" stroke-width="2.2"/>
<path d="M987.20 330.00L997.20 320.00L1007.20 330.00L997.20 340.00Z" fill="none" stroke="#f00" stroke-width="2.2"/>
<path d="M948.30 321.00L958.30 311.00L968.30 321.00L958.30 331.00Z" fill="none" stroke="#f00" stroke-width="2.2"/>
<path d="M951.80 321.00L961.80 311.00L971.80 321.00L961.80 331.00Z" fill="none" stroke="#f00" stroke-width="2.2"/>
<path d="M954.80 321.00L964.80 311.00L974.80 321.00L964.80 331.00Z" fill="none" stroke="#f00" stroke-width="2.2"/>
<path d="M957.80 321.00L967.80 311.00L977.80 321.00L967.80 331.00Z" fill="none" stroke="#f00" stroke-width="2.2"/>
<path d="M961.80 321.00L971.80 311.00L981.80 321.00L971.80 331.00Z" fill="none" stroke="#f00" stroke-width="2.2"/>
<path d="M967.80 321.00L977.80 311.00L987.80 321.00L977.80 331.00Z" fill="none" stroke="#f00" stroke-width="2.2"/>
<path d="M974.80 321.00L984.80 311.00L994.80 321.00L984.80 331.00Z" fill="none" stroke="#f00" stroke-width="2.2"/>
<path d="M946.80 306.70L956.80 296.70L966.80 306.70L956.80 316.70Z" fill="none" stroke="#f00" stroke-width="2.2"/>
<path d="M949.80 306.70L959.80 296.70L969.80 306.70L959.80 316.70Z" fill="none" stroke="#f00" stroke-width="2.2"/>
<path d="M952.80 306.70L962.80 296.70L972.80 306.70L962.80 316.70Z" fill="none" stroke="#f00" stroke-width="2.2"/>
<path d="M955.80 306.70L965.80 296.70L975.80 306.70L965.80 316.70Z" fill="none" stroke="#f00" stroke-width="2.2"/>
<path d="M958.80 306.70L968.80 296.70L978.80 306.70L968.80 316.70Z" fill="none" stroke="#f00" stroke-width="2.2"/>
<path d="M961.80 306.70L971.80 296.70L981.80 306.70L971.80 316.70Z" fill="none" stroke="#f00" stroke-width="2.2"/>
<path d="M964.80 306.70L974.80 296.70L984.80 306.70L974.80 316.70Z" fill="none" stroke="#f00" stroke-width="2.2"/>
<path d="M968.80 306.70L978.80 296.70L988.80 306.70L978.80 316.70Z" fill="none" stroke="#f00" stroke-width="2.2"/>
<path d="M972.80 306.70L982.80 296.70L992.80 306.70L982.80 316.70Z" fill="none" stroke="#f00" stroke-width="2.2"/>
<path d="M976.80 306.70L986.80 296.70L996.80 306.70L986.80 316.70Z" fill="none" stroke="#f00" stroke-width="2.2"/>
<path d="M991.80 307.50L1001.80 297.50L1011.80 307.50L1001.80 317.50Z" fill="none" stroke="#f00" stroke-width="2.2"/>
<path d="M1004.10 307.20L1014.10 297.20L1024.10 307.20L1014.10 317.20Z" fill="none" stroke="#f00" stroke-width="2.2"/>
<path d="M978.80 292.20L988.80 282.20L998.80 292.20L988.80 302.20Z" fill="none" stroke="#f00" stroke-width="2.2"/>
<path d="M981.80 292.20L991.80 282.20L1001.80 292.20L991.80 302.20Z" fill="none" stroke="#f00" stroke-width="2.2"/>
<path d="M984.80 292.20L994.80 282.20L1004.80 292.20L994.80 302.20Z" fill="none" stroke="#f00" stroke-width="2.2"/>
<path d="M987.80 292.20L997.80 282.20L1007.80 292.20L997.80 302.20Z" fill="none" stroke="#f00" stroke-width="2.2"/>
<path d="M990.80 292.20L1000.80 282.20L1010.80 292.20L1000.80 302.20Z" fill="none" stroke="#f00" stroke-width="2.2"/>
<path d="M994.60 292.20L1004.60 282.20L1014.60 292.20L1004.60 302.20Z" fill="none" stroke="#f00" stroke-width="2.2"/>
<path d="M1007.60 292.20L1017.60 282.20L1027.60 292.20L1017.60 302.20Z" fill="none" stroke="#f00" stroke-width="2.2"/>
<path d="M1027.00 292.20L1037.00 282.20L1047.00 292.20L1037.00 302.20Z" fill="none" stroke="#f00" stroke-width="2.2"/>
<path d="M1126.80 290.00L1136.80 280.00L1146.80 290.00L1136.80 300.00Z" fill="none" stroke="#f00" stroke-width="2.2"/>
<path d="M1130.80 290.00L1140.80 280.00L1150.80 290.00L1140.80 300.00Z" fill="none" stroke="#f00" stroke-width="2.2"/>
<path d="M1133.80 290.00L1143.80 280.00L1153.80 290.00L1143.80 300.00Z" fill="none" stroke="#f00" stroke-width="2.2"/>
<path d="M1136.80 290.00L1146.80 280.00L1156.80 290.00L1146.80 300.00Z" fill="none" stroke="#f00" stroke-width="2.2"/>
<path d="M1139.80 290.00L1149.80 280.00L1159.80 290.00L1149.80 300.00Z" fill="none" stroke="#f00" stroke-width="2.2"/>
<path d="M1142.80 290.00L1152.80 280.00L1162.80 290.00L1152.80 300.00Z" fill="none" stroke="#f00" stroke-width="2.2"/>
<path d="M1145.80 290.00L1155.80 280.00L1165.80 290.00L1155.80 300.00Z" fill="none" stroke="#f00" stroke-width="2.2"/>
<path d="M1151.30 290.00L1161.30 280.00L1171.30 290.00L1161.30 300.00Z" fill="none" stroke="#f00" stroke-width="2.2"/>
<path d="M1094.80 210.50L1104.80 200.50L1114.80 210.50L1104.80 220.50Z" fill="none" stroke="#f00" stroke-width="2.2"/>
<path d="M1102.80 210.50L1112.80 200.50L1122.80 210.50L1112.80 220.50Z" fill="none" stroke="#f00" stroke-width="2.2"/>
<path d="M1107.80 210.50L1117.80 200.50L1127.80 210.50L1117.80 220.50Z" fill="none" stroke="#f00" stroke-width="2.2"/>
<path d="M1111.30 210.50L1121.30 200.50L1131.30 210.50L1121.30 220.50Z" fill="none" stroke="#f00" stroke-width="2.2"/>
<path d="M1114.80 210.50L1124.80 200.50L1134.80 210.50L1124.80 220.50Z" fill="none" stroke="#f00" stroke-width="2.2"/>
<path d="M1117.80 210.50L1127.80 200.50L1137.80 210.50L1127.80 220.50Z" fill="none" stroke="#f00" stroke-width="2.2"/>
<path d="M1141.40 210.50L1151.40 200.50L1161.40 210.50L1151.40 220.50Z" fill="none" stroke="#f00" stroke-width="2.2"/>
<path d="M1115.80 194.00L1125.80 184.00L1135.80 194.00L1125.80 204.00Z" fill="none" stroke="#f00" stroke-width="2.2"/>
<path d="M1118.30 194.00L1128.30 184.00L1138.30 194.00L1128.30 204.00Z" fill="none" stroke="#f00" stroke-width="2.2"/>
<path d="M1120.80 194.00L1130.80 184.00L1140.80 194.00L1130.80 204.00Z" fill="none" stroke="#f00" stroke-width="2.2"/>
<path d="M1123.30 194.00L1133.30 184.00L1143.30 194.00L1133.30 204.00Z" fill="none" stroke="#f00" stroke-width="2.2"/>
<path d="M1125.80 194.00L1135.80 184.00L1145.80 194.00L1135.80 204.00Z" fill="none" stroke="#f00" stroke-width="2.2"/>
<path d="M1128.30 194.00L1138.30 184.00L1148.30 194.00L1138.30 204.00Z" fill="none" stroke="#f00" stroke-width="2.2"/>
<path d="M1136.30 194.00L1146.30 184.00L1156.30 194.00L1146.30 204.00Z" fill="none" stroke="#f00" stroke-width="2.2"/>
<path d="M1140.00 194.00L1150.00 184.00L1160.00 194.00L1150.00 204.00Z" fill="none" stroke="#f00" stroke-width="2.2"/>
<path d="M1143.40 194.00L1153.40 184.00L1163.40 194.00L1153.40 204.00Z" fill="none" stroke="#f00" stroke-width="2.2"/>
<path d="M1054.90 307.20L1064.90 297.20L1074.90 307.20L1064.90 317.20Z" fill="none" stroke="#f00" stroke-width="2.2"/>
<path d="M1056.80 303.00L1066.80 293.00L1076.80 303.00L1066.80 313.00Z" fill="none" stroke="#f00" stroke-width="2.2"/>
<path d="M1058.00 303.00L1068.00 293.00L1078.00 303.00L1068.00 313.00Z" fill="none" stroke="#f00" stroke-width="2.2"/>
<path d="M1059.20 303.00L1069.20 293.00L1079.20 303.00L1069.20 313.00Z" fill="none" stroke="#f00" stroke-width="2.2"/>
<path d="M1060.40 303.00L1070.40 293.00L1080.40 303.00L1070.40 313.00Z" fill="none" stroke="#f00" stroke-width="2.2"/>
<path d="M1061.60 303.00L1071.60 293.00L1081.60 303.00L1071.60 313.00Z" fill="none" stroke="#f00" stroke-width="2.2"/>
<line x1="825.80" y1="20.50" x2="1331.10" y2="20.50" stroke="#000" stroke-width="2.3" />
<line x1="825.80" y1="484.20" x2="1331.10" y2="484.20" stroke="#000" stroke-width="2.3" />
<line x1="846.80" y1="-0.50" x2="846.80" y2="505.20" stroke="#000" stroke-width="2.3" />
<line x1="1310.10" y1="-0.50" x2="1310.10" y2="505.20" stroke="#000" stroke-width="2.3" />
<line x1="893.13" y1="10.00" x2="893.13" y2="20.50" stroke="#000" stroke-width="2.3" />
<line x1="893.13" y1="484.20" x2="893.13" y2="494.70" stroke="#000" stroke-width="2.3" />
<line x1="939.46" y1="-0.50" x2="939.46" y2="20.50" stroke="#000" stroke-width="2.3" />
<line x1="939.46" y1="484.20" x2="939.46" y2="505.20" stroke="#000" stroke-width="2.3" />
<line x1="985.79" y1="10.00" x2="985.79" y2="20.50" stroke="#000" stroke-width="2.3" />
<line x1="985.79" y1="484.20" x2="985.79" y2="494.70" stroke="#000" stroke-width="2.3" />
<line x1="1032.12" y1="-0.50" x2="1032.12" y2="20.50" stroke="#000" stroke-width="2.3" />
<line x1="1032.12" y1="484.20" x2="1032.12" y2="505.20" stroke="#000" stroke-width="2.3" />
<line x1="1078.45" y1="10.00" x2="1078.45" y2="20.50" stroke="#000" stroke-width="2.3" />
<line x1="1078.45" y1="484.20" x2="1078.45" y2="494.70" stroke="#000" stroke-width="2.3" />
<line x1="1124.78" y1="-0.50" x2="1124.78" y2="20.50" stroke="#000" stroke-width="2.3" />
<line x1="1124.78" y1="484.20" x2="1124.78" y2="505.20" stroke="#000" stroke-width="2.3" />
<line x1="1171.11" y1="10.00" x2="1171.11" y2="20.50" stroke="#000" stroke-width="2.3" />
<line x1="1171.11" y1="484.20" x2="1171.11" y2="494.70" stroke="#000" stroke-width="2.3" />
<line x1="1217.44" y1="-0.50" x2="1217.44" y2="20.50" stroke="#000" stroke-width="2.3" />
<line x1="1217.44" y1="484.20" x2="1217.44" y2="505.20" stroke="#000" stroke-width="2.3" />
<line x1="1263.77" y1="10.00" x2="1263.77" y2="20.50" stroke="#000" stroke-width="2.3" />
<line x1="1263.77" y1="484.20" x2="1263.77" y2="494.70" stroke="#000" stroke-width="2.3" />
<line x1="836.30" y1="66.87" x2="846.80" y2="66.87" stroke="#000" stroke-width="2.3" />
<line x1="1310.10" y1="66.87" x2="1320.60" y2="66.87" stroke="#000" stroke-width="2.3" />
<line x1="825.80" y1="113.24" x2="846.80" y2="113.24" stroke="#000" stroke-width="2.3" />
<line x1="1310.10" y1="113.24" x2="1331.10" y2="113.24" stroke="#000" stroke-width="2.3" />
<line x1="836.30" y1="159.61" x2="846.80" y2="159.61" stroke="#000" stroke-width="2.3" />
<line x1="1310.10" y1="159.61" x2="1320.60" y2="159.61" stroke="#000" stroke-width="2.3" />
<line x1="825.80" y1="205.98" x2="846.80" y2="205.98" stroke="#000" stroke-width="2.3" />
<line x1="1310.10" y1="205.98" x2="1331.10" y2="205.98" stroke="#000" stroke-width="2.3" />
<line x1="836.30" y1="252.35" x2="846.80" y2="252.35" stroke="#000" stroke-width="2.3" />
<line x1="1310.10" y1="252.35" x2="1320.60" y2="252.35" stroke="#000" stroke-width="2.3" />
<line x1="825.80" y1="298.72" x2="846.80" y2="298.72" stroke="#000" stroke-width="2.3" />
<line x1="1310.10" y1="298.72" x2="1331.10" y2="298.72" stroke="#000" stroke-width="2.3" />
<line x1="836.30" y1="345.09" x2="846.80" y2="345.09" stroke="#000" stroke-width="2.3" />
<line x1="1310.10" y1="345.09" x2="1320.60" y2="345.09" stroke="#000" stroke-width="2.3" />
<line x1="825.80" y1="391.46" x2="846.80" y2="391.46" stroke="#000" stroke-width="2.3" />
<line x1="1310.10" y1="391.46" x2="1331.10" y2="391.46" stroke="#000" stroke-width="2.3" />
<line x1="836.30" y1="437.83" x2="846.80" y2="437.83" stroke="#000" stroke-width="2.3" />
<line x1="1310.10" y1="437.83" x2="1320.60" y2="437.83" stroke="#000" stroke-width="2.3" />
<text x="0" y="0" text-anchor="end" fill="#000" stroke="#000" stroke-width="0.38" style="font-family:'Liberation Sans',sans-serif;font-size:29.2px;" transform="translate(816.90 31.10) scale(1 1.01)">-9</text>
<text x="0" y="0" text-anchor="end" fill="#000" stroke="#000" stroke-width="0.38" style="font-family:'Liberation Sans',sans-serif;font-size:29.2px;" transform="translate(816.90 123.84) scale(1 1.01)">-10</text>
<text x="0" y="0" text-anchor="end" fill="#000" stroke="#000" stroke-width="0.38" style="font-family:'Liberation Sans',sans-serif;font-size:29.2px;" transform="translate(816.90 216.58) scale(1 1.01)">-11</text>
<text x="0" y="0" text-anchor="end" fill="#000" stroke="#000" stroke-width="0.38" style="font-family:'Liberation Sans',sans-serif;font-size:29.2px;" transform="translate(816.90 309.32) scale(1 1.01)">-12</text>
<text x="0" y="0" text-anchor="end" fill="#000" stroke="#000" stroke-width="0.38" style="font-family:'Liberation Sans',sans-serif;font-size:29.2px;" transform="translate(816.90 402.06) scale(1 1.01)">-13</text>
<text x="0" y="0" text-anchor="end" fill="#000" stroke="#000" stroke-width="0.38" style="font-family:'Liberation Sans',sans-serif;font-size:29.2px;" transform="translate(816.90 494.80) scale(1 1.01)">-14</text>
<text x="0" y="0" text-anchor="middle" fill="#000" stroke="#000" stroke-width="0.38" style="font-family:'Liberation Sans',sans-serif;font-size:29.2px;" transform="translate(847.10 536.20) scale(1 1.01)">-14</text>
<text x="0" y="0" text-anchor="middle" fill="#000" stroke="#000" stroke-width="0.38" style="font-family:'Liberation Sans',sans-serif;font-size:29.2px;" transform="translate(939.76 536.20) scale(1 1.01)">-13</text>
<text x="0" y="0" text-anchor="middle" fill="#000" stroke="#000" stroke-width="0.38" style="font-family:'Liberation Sans',sans-serif;font-size:29.2px;" transform="translate(1032.42 536.20) scale(1 1.01)">-12</text>
<text x="0" y="0" text-anchor="middle" fill="#000" stroke="#000" stroke-width="0.38" style="font-family:'Liberation Sans',sans-serif;font-size:29.2px;" transform="translate(1125.08 536.20) scale(1 1.01)">-11</text>
<text x="0" y="0" text-anchor="middle" fill="#000" stroke="#000" stroke-width="0.38" style="font-family:'Liberation Sans',sans-serif;font-size:29.2px;" transform="translate(1217.74 536.20) scale(1 1.01)">-10</text>
<text x="0" y="0" text-anchor="middle" fill="#000" stroke="#000" stroke-width="0.38" style="font-family:'Liberation Sans',sans-serif;font-size:29.2px;" transform="translate(1310.40 536.20) scale(1 1.01)">-9</text>
<text x="0" y="0" text-anchor="middle" fill="#000" stroke="#000" stroke-width="0.38" style="font-family:'Liberation Sans',sans-serif;font-size:29px;" transform="translate(1079.25 567.50) scale(1 1.035)">Measured leaching rate</text>
<text x="0" y="0" text-anchor="middle" fill="#000" stroke="#000" stroke-width="0.38" style="font-family:'Liberation Sans',sans-serif;font-size:29px;" transform="translate(1079.25 607.50) scale(1 1.035)">(log[mol SiO<tspan font-size="20.0" dy="10.9">2</tspan><tspan dy="-10.9">/cm</tspan><tspan font-size="20.0" dy="-16.6">2</tspan><tspan dy="16.6">/s])</tspan></text>
<text x="0" y="0" text-anchor="middle" fill="#000" stroke="#000" stroke-width="0.38" style="font-family:'Liberation Sans',sans-serif;font-size:29px;" transform="translate(715.70 250.85) rotate(-90) scale(1 1.035)">Predicted leaching rate</text>
<text x="0" y="0" text-anchor="middle" fill="#000" stroke="#000" stroke-width="0.38" style="font-family:'Liberation Sans',sans-serif;font-size:29px;" transform="translate(753.60 250.85) rotate(-90) scale(1 1.035)">(log[mol SiO<tspan font-size="20.0" dy="10.9">2</tspan><tspan dy="-10.9">/cm</tspan><tspan font-size="20.0" dy="-16.6">2</tspan><tspan dy="16.6">/s])</tspan></text>
<rect x="868.60" y="47.30" width="17.8" height="17.8" fill="none" stroke="#000" stroke-width="2.2"/>
<path d="M867.30 96.80L877.30 86.80L887.30 96.80L877.30 106.80Z" fill="none" stroke="#f00" stroke-width="2.2"/>
<text x="0" y="0" text-anchor="start" fill="#000" stroke="#000" stroke-width="0.38" style="font-family:'Liberation Sans',sans-serif;font-size:32px;" transform="translate(918.80 64.30) scale(1 1.035)">Training set (Glasses A)</text>
<text x="0" y="0" text-anchor="start" fill="#000" stroke="#000" stroke-width="0.38" style="font-family:'Liberation Sans',sans-serif;font-size:32px;" transform="translate(918.80 105.20) scale(1 1.035)">Test set (Glasses B)</text>
<text x="0" y="0" text-anchor="start" fill="#0000ff" stroke="#0000ff" stroke-width="0.45" style="font-family:'Liberation Sans',sans-serif;font-size:23px;" transform="translate(861.70 177.00) scale(1 1.035)">RRMSE(train)=2.37%</text>
<text x="0" y="0" text-anchor="start" fill="#0000ff" stroke="#0000ff" stroke-width="0.45" style="font-family:'Liberation Sans',sans-serif;font-size:23px;" transform="translate(861.60 217.00) scale(1 1.035)">RRMSE(test)=4.25%</text>
<text x="0" y="0" text-anchor="start" fill="#008f00" stroke="#008f00" stroke-width="0.4" style="font-family:'Liberation Sans',sans-serif;font-size:23px;font-style:italic" transform="translate(940.40 421.00) scale(1 1.035)">Model IV: (Extrapolation)</text>
<text x="0" y="0" text-anchor="start" fill="#008f00" stroke="#008f00" stroke-width="0.4" style="font-family:'Liberation Sans',sans-serif;font-size:23px;font-style:italic" transform="translate(937.40 457.00) scale(1 1.035)">log(DR)=f(pH<tspan font-size="16.6" dy="9.3">acid</tspan><tspan dy="-9.3">, pH</tspan><tspan font-size="16.6" dy="9.3">base</tspan><tspan dy="-9.3">, Na</tspan><tspan font-size="16.6" dy="9.3">2</tspan><tspan dy="-9.3">O, n</tspan><tspan font-size="16.6" dy="9.3">c</tspan><tspan dy="-9.3">)</tspan></text>
<text x="0" y="0" text-anchor="middle" fill="#000" stroke="#000" stroke-width="0.2" style="font-family:'Liberation Serif',serif;font-size:47px;font-weight:bold" transform="translate(1010.55 672.70) scale(1 1.02)">(b)</text>
<path d="M1492.50 507.14L1494.75 507.14L1497.01 507.14L1499.26 507.14L1501.52 507.14L1503.77 507.13L1506.03 507.13L1508.28 507.13L1510.53 507.12L1512.79 507.12L1515.04 507.12L1517.30 507.11L1519.55 507.10L1521.81 507.10L1524.06 507.09L1526.31 507.08L1528.57 507.07L1530.82 507.06L1533.08 507.04L1535.33 507.03L1537.59 507.01L1539.84 506.99L1542.09 506.97L1544.35 506.95L1546.60 506.92L1548.86 506.89L1551.11 506.85L1553.37 506.81L1555.62 506.77L1557.87 506.72L1560.13 506.66L1562.38 506.60L1564.64 506.53L1566.89 506.45L1569.15 506.37L1571.40 506.27L1573.65 506.17L1575.91 506.05L1578.16 505.92L1580.42 505.77L1582.67 505.62L1584.93 505.44L1587.18 505.25L1589.43 505.04L1591.69 504.81L1593.94 504.56L1596.20 504.28L1598.45 503.98L1600.71 503.65L1602.96 503.29L1605.21 502.90L1607.47 502.47L1609.72 502.01L1611.98 501.51L1614.23 500.97L1616.49 500.38L1618.74 499.75L1620.99 499.07L1623.25 498.34L1625.50 497.55L1627.76 496.71L1630.01 495.81L1632.27 494.84L1634.52 493.80L1636.77 492.70L1639.03 491.53L1641.28 490.28L1643.54 488.95L1645.79 487.54L1648.05 486.05L1650.30 484.48L1652.55 482.81L1654.81 481.06L1657.06 479.21L1659.32 477.27L1661.57 475.24L1663.83 473.11L1666.08 470.88L1668.33 468.55L1670.59 466.12L1672.84 463.59L1675.10 460.96L1677.35 458.24L1679.61 455.42L1681.86 452.50L1684.11 449.49L1686.37 446.38L1688.62 443.19L1690.88 439.91L1693.13 436.55L1695.39 433.11L1697.64 429.60L1699.89 426.03L1702.15 422.39L1704.40 418.70L1706.66 414.96L1708.91 411.18L1711.17 407.37L1713.42 403.53L1715.67 399.68L1717.93 395.82L1720.18 391.96L1722.44 388.12L1724.69 384.30L1726.95 380.51L1729.20 376.76L1731.45 373.07L1733.71 369.44L1735.96 365.88L1738.22 362.41L1740.47 359.04L1742.73 355.78L1744.98 352.63L1747.23 349.61L1749.49 346.72L1751.74 343.99L1754.00 341.41L1756.25 339.00L1758.51 336.76L1760.76 334.70L1763.01 332.83L1765.27 331.15L1767.52 329.68L1769.78 328.42L1772.03 327.36L1774.29 326.52L1776.54 325.90L1778.79 325.50L1781.05 325.32L1783.30 325.37L1785.56 325.63L1787.81 326.12L1790.07 326.83L1792.32 327.75L1794.57 328.89L1796.83 330.24L1799.08 331.79L1801.34 333.55L1803.59 335.49L1805.85 337.62L1808.10 339.93L1810.35 342.41L1812.61 345.05L1814.86 347.85L1817.12 350.79L1819.37 353.86L1821.63 357.06L1823.88 360.36L1826.13 363.78L1828.39 367.28L1830.64 370.87L1832.90 374.52L1835.15 378.24L1837.41 382.00L1839.66 385.81L1841.91 389.64L1844.17 393.49L1846.42 397.35L1848.68 401.21L1850.93 405.05L1853.19 408.88L1855.44 412.68L1857.69 416.45L1859.95 420.17L1862.20 423.84L1864.46 427.45L1866.71 431.00L1868.97 434.48L1871.22 437.89L1873.47 441.22L1875.73 444.46L1877.98 447.62L1880.24 450.69L1882.49 453.67L1884.75 456.55L1887.00 459.33L1889.25 462.02L1891.51 464.60L1893.76 467.09L1896.02 469.48L1898.27 471.77L1900.53 473.96L1902.78 476.06L1905.03 478.05L1907.29 479.96L1909.54 481.77L1911.80 483.48L1914.05 485.11L1916.31 486.65L1918.56 488.11L1920.81 489.49L1923.07 490.78L1925.32 492.00L1927.58 493.15L1929.83 494.22L1932.09 495.23L1934.34 496.17L1936.59 497.05L1938.85 497.87L1941.10 498.64L1943.36 499.35" fill="none" stroke="#000" stroke-width="3.4" stroke-dasharray="16.2 9.6" stroke-dashoffset="-7.9"/>
<path d="M1594.58 507.10L1595.83 507.09L1597.08 507.08L1598.33 507.06L1599.58 507.05L1600.82 507.03L1602.07 507.01L1603.32 506.99L1604.57 506.97L1605.82 506.94L1607.07 506.91L1608.32 506.87L1609.57 506.83L1610.81 506.78L1612.06 506.73L1613.31 506.67L1614.56 506.60L1615.81 506.52L1617.06 506.43L1618.31 506.33L1619.55 506.22L1620.80 506.10L1622.05 505.96L1623.30 505.80L1624.55 505.62L1625.80 505.42L1627.05 505.20L1628.30 504.96L1629.54 504.68L1630.79 504.38L1632.04 504.04L1633.29 503.67L1634.54 503.26L1635.79 502.80L1637.04 502.30L1638.28 501.75L1639.53 501.14L1640.78 500.47L1642.03 499.74L1643.28 498.94L1644.53 498.07L1645.78 497.12L1647.03 496.09L1648.27 494.96L1649.52 493.74L1650.77 492.42L1652.02 490.99L1653.27 489.44L1654.52 487.77L1655.77 485.98L1657.01 484.05L1658.26 481.98L1659.51 479.76L1660.76 477.38L1662.01 474.85L1663.26 472.15L1664.51 469.27L1665.76 466.21L1667.00 462.97L1668.25 459.54L1669.50 455.91L1670.75 452.08L1672.00 448.04L1673.25 443.80L1674.50 439.34L1675.74 434.67L1676.99 429.79L1678.24 424.69L1679.49 419.37L1680.74 413.84L1681.99 408.10L1683.24 402.15L1684.49 396.00L1685.73 389.65L1686.98 383.10L1688.23 376.37L1689.48 369.47L1690.73 362.40L1691.98 355.17L1693.23 347.81L1694.47 340.31L1695.72 332.71L1696.97 325.01L1698.22 317.23L1699.47 309.39L1700.72 301.51L1701.97 293.61L1703.22 285.71L1704.46 277.84L1705.71 270.01L1706.96 262.25L1708.21 254.59L1709.46 247.04L1710.71 239.64L1711.96 232.40L1713.20 225.36L1714.45 218.54L1715.70 211.95L1716.95 205.63L1718.20 199.60L1719.45 193.88L1720.70 188.49L1721.95 183.45L1723.19 178.79L1724.44 174.52L1725.69 170.65L1726.94 167.21L1728.19 164.21L1729.44 161.65L1730.69 159.55L1731.93 157.93L1733.18 156.77L1734.43 156.10L1735.68 155.91L1736.93 156.20L1738.18 156.98L1739.43 158.23L1740.68 159.95L1741.92 162.15L1743.17 164.80L1744.42 167.89L1745.67 171.43L1746.92 175.38L1748.17 179.73L1749.42 184.48L1750.66 189.59L1751.91 195.05L1753.16 200.84L1754.41 206.93L1755.66 213.31L1756.91 219.94L1758.16 226.82L1759.41 233.90L1760.65 241.18L1761.90 248.61L1763.15 256.18L1764.40 263.87L1765.65 271.64L1766.90 279.48L1768.15 287.36L1769.39 295.26L1770.64 303.16L1771.89 311.03L1773.14 318.86L1774.39 326.63L1775.64 334.31L1776.89 341.89L1778.14 349.36L1779.38 356.70L1780.63 363.89L1781.88 370.93L1783.13 377.79L1784.38 384.49L1785.63 390.99L1786.88 397.30L1788.12 403.42L1789.37 409.32L1790.62 415.02L1791.87 420.50L1793.12 425.77L1794.37 430.83L1795.62 435.67L1796.87 440.29L1798.11 444.70L1799.36 448.90L1800.61 452.89L1801.86 456.68L1803.11 460.27L1804.36 463.66L1805.61 466.87L1806.85 469.89L1808.10 472.73L1809.35 475.39L1810.60 477.89L1811.85 480.23L1813.10 482.42L1814.35 484.46L1815.60 486.36L1816.84 488.13L1818.09 489.77L1819.34 491.29L1820.59 492.70L1821.84 494.00L1823.09 495.21L1824.34 496.31L1825.58 497.33L1826.83 498.26L1828.08 499.12L1829.33 499.90L1830.58 500.62L1831.83 501.27L1833.08 501.87L1834.33 502.41L1835.57 502.90L1836.82 503.35L1838.07 503.75L1839.32 504.12L1840.57 504.45L1841.82 504.74L1843.07 505.01L1844.31 505.25" fill="none" stroke="#000" stroke-width="3.4"/>
<path d="M1492.50 507.12L1494.54 507.12L1496.57 507.12L1498.61 507.11L1500.64 507.10L1502.68 507.10L1504.71 507.09L1506.75 507.08L1508.78 507.07L1510.82 507.06L1512.86 507.05L1514.89 507.03L1516.93 507.02L1518.96 507.00L1521.00 506.98L1523.03 506.96L1525.07 506.93L1527.10 506.91L1529.14 506.87L1531.18 506.84L1533.21 506.80L1535.25 506.75L1537.28 506.71L1539.32 506.65L1541.35 506.59L1543.39 506.52L1545.42 506.45L1547.46 506.36L1549.50 506.27L1551.53 506.17L1553.57 506.06L1555.60 505.94L1557.64 505.80L1559.67 505.65L1561.71 505.49L1563.74 505.31L1565.78 505.11L1567.82 504.89L1569.85 504.66L1571.89 504.40L1573.92 504.12L1575.96 503.82L1577.99 503.49L1580.03 503.13L1582.06 502.74L1584.10 502.31L1586.14 501.86L1588.17 501.36L1590.21 500.83L1592.24 500.25L1594.28 499.64L1596.31 498.97L1598.35 498.26L1600.38 497.50L1602.42 496.68L1604.45 495.80L1606.49 494.87L1608.53 493.87L1610.56 492.81L1612.60 491.69L1614.63 490.49L1616.67 489.22L1618.70 487.87L1620.74 486.45L1622.77 484.95L1624.81 483.36L1626.85 481.69L1628.88 479.93L1630.92 478.09L1632.95 476.15L1634.99 474.12L1637.02 472.00L1639.06 469.78L1641.09 467.47L1643.13 465.07L1645.17 462.56L1647.20 459.97L1649.24 457.27L1651.27 454.48L1653.31 451.60L1655.34 448.63L1657.38 445.56L1659.41 442.41L1661.45 439.18L1663.49 435.86L1665.52 432.46L1667.56 428.99L1669.59 425.45L1671.63 421.85L1673.66 418.18L1675.70 414.47L1677.73 410.70L1679.77 406.90L1681.81 403.06L1683.84 399.20L1685.88 395.32L1687.91 391.43L1689.95 387.54L1691.98 383.65L1694.02 379.79L1696.05 375.95L1698.09 372.14L1700.13 368.38L1702.16 364.68L1704.20 361.04L1706.23 357.48L1708.27 354.00L1710.30 350.62L1712.34 347.34L1714.37 344.17L1716.41 341.13L1718.45 338.23L1720.48 335.46L1722.52 332.85L1724.55 330.39L1726.59 328.10L1728.62 325.98L1730.66 324.05L1732.69 322.30L1734.73 320.74L1736.77 319.38L1738.80 318.23L1740.84 317.28L1742.87 316.54L1744.91 316.01L1746.94 315.69L1748.98 315.59L1751.01 315.70L1753.05 316.03L1755.09 316.57L1757.12 317.33L1759.16 318.29L1761.19 319.46L1763.23 320.83L1765.26 322.40L1767.30 324.16L1769.33 326.10L1771.37 328.23L1773.41 330.53L1775.44 333.00L1777.48 335.62L1779.51 338.40L1781.55 341.31L1783.58 344.36L1785.62 347.53L1787.65 350.82L1789.69 354.21L1791.72 357.69L1793.76 361.26L1795.80 364.90L1797.83 368.61L1799.87 372.37L1801.90 376.17L1803.94 380.02L1805.97 383.88L1808.01 387.77L1810.04 391.66L1812.08 395.55L1814.12 399.43L1816.15 403.29L1818.19 407.13L1820.22 410.93L1822.26 414.69L1824.29 418.40L1826.33 422.06L1828.36 425.66L1830.40 429.20L1832.44 432.67L1834.47 436.06L1836.51 439.37L1838.54 442.60L1840.58 445.75L1842.61 448.81L1844.65 451.78L1846.68 454.65L1848.72 457.44L1850.76 460.12L1852.79 462.72L1854.83 465.21L1856.86 467.61L1858.90 469.92L1860.93 472.13L1862.97 474.24L1865.00 476.27L1867.04 478.20L1869.08 480.04L1871.11 481.79L1873.15 483.46L1875.18 485.04L1877.22 486.54L1879.25 487.95L1881.29 489.30L1883.32 490.56L1885.36 491.75L1887.40 492.88L1889.43 493.93L1891.47 494.93L1893.50 495.86L1895.54 496.73L1897.57 497.54L1899.61 498.30" fill="none" stroke="#f00" stroke-width="3.4" stroke-dasharray="16.2 9.6" stroke-dashoffset="-10.6"/>
<path d="M1594.58 507.10L1595.83 507.09L1597.08 507.08L1598.33 507.06L1599.58 507.05L1600.82 507.03L1602.07 507.02L1603.32 506.99L1604.57 506.97L1605.82 506.94L1607.07 506.91L1608.32 506.87L1609.57 506.83L1610.81 506.78L1612.06 506.73L1613.31 506.67L1614.56 506.60L1615.81 506.52L1617.06 506.44L1618.31 506.34L1619.55 506.23L1620.80 506.10L1622.05 505.96L1623.30 505.80L1624.55 505.63L1625.80 505.43L1627.05 505.21L1628.30 504.96L1629.54 504.69L1630.79 504.39L1632.04 504.05L1633.29 503.68L1634.54 503.27L1635.79 502.82L1637.04 502.32L1638.28 501.77L1639.53 501.16L1640.78 500.50L1642.03 499.77L1643.28 498.97L1644.53 498.10L1645.78 497.16L1647.03 496.13L1648.27 495.00L1649.52 493.79L1650.77 492.47L1652.02 491.04L1653.27 489.50L1654.52 487.84L1655.77 486.05L1657.01 484.13L1658.26 482.06L1659.51 479.85L1660.76 477.49L1662.01 474.96L1663.26 472.27L1664.51 469.40L1665.76 466.35L1667.00 463.12L1668.25 459.70L1669.50 456.08L1670.75 452.27L1672.00 448.25L1673.25 444.02L1674.50 439.58L1675.74 434.92L1676.99 430.06L1678.24 424.97L1679.49 419.68L1680.74 414.17L1681.99 408.45L1683.24 402.52L1684.49 396.38L1685.73 390.05L1686.98 383.53L1688.23 376.82L1689.48 369.94L1690.73 362.90L1691.98 355.70L1693.23 348.36L1694.47 340.89L1695.72 333.31L1696.97 325.64L1698.22 317.89L1699.47 310.07L1700.72 302.22L1701.97 294.35L1703.22 286.48L1704.46 278.63L1705.71 270.83L1706.96 263.10L1708.21 255.46L1709.46 247.94L1710.71 240.56L1711.96 233.35L1713.20 226.34L1714.45 219.53L1715.70 212.97L1716.95 206.67L1718.20 200.66L1719.45 194.96L1720.70 189.59L1721.95 184.57L1723.19 179.93L1724.44 175.67L1725.69 171.82L1726.94 168.39L1728.19 165.39L1729.44 162.85L1730.69 160.76L1731.93 159.13L1733.18 157.99L1734.43 157.31L1735.68 157.12L1736.93 157.42L1738.18 158.19L1739.43 159.44L1740.68 161.16L1741.92 163.34L1743.17 165.98L1744.42 169.07L1745.67 172.59L1746.92 176.53L1748.17 180.87L1749.42 185.59L1750.66 190.69L1751.91 196.13L1753.16 201.90L1754.41 207.97L1755.66 214.32L1756.91 220.94L1758.16 227.79L1759.41 234.85L1760.65 242.10L1761.90 249.50L1763.15 257.05L1764.40 264.71L1765.65 272.46L1766.90 280.27L1768.15 288.12L1769.39 296.00L1770.64 303.87L1771.89 311.71L1773.14 319.51L1774.39 327.25L1775.64 334.91L1776.89 342.46L1778.14 349.90L1779.38 357.22L1780.63 364.38L1781.88 371.40L1783.13 378.24L1784.38 384.91L1785.63 391.39L1786.88 397.68L1788.12 403.77L1789.37 409.66L1790.62 415.34L1791.87 420.80L1793.12 426.05L1794.37 431.09L1795.62 435.91L1796.87 440.52L1798.11 444.92L1799.36 449.10L1800.61 453.08L1801.86 456.86L1803.11 460.43L1804.36 463.82L1805.61 467.01L1806.85 470.01L1808.10 472.84L1809.35 475.50L1810.60 477.99L1811.85 480.33L1813.10 482.51L1814.35 484.54L1815.60 486.44L1816.84 488.20L1818.09 489.83L1819.34 491.35L1820.59 492.75L1821.84 494.05L1823.09 495.25L1824.34 496.35L1825.58 497.36L1826.83 498.29L1828.08 499.15L1829.33 499.93L1830.58 500.64L1831.83 501.29L1833.08 501.88L1834.33 502.42L1835.57 502.91L1836.82 503.36L1838.07 503.76L1839.32 504.13L1840.57 504.45L1841.82 504.75L1843.07 505.02L1844.31 505.26" fill="none" stroke="#f00" stroke-width="3.4"/>
<line x1="1470.50" y1="21.50" x2="2000.60" y2="21.50" stroke="#000" stroke-width="2.6" />
<line x1="1470.50" y1="507.60" x2="2000.60" y2="507.60" stroke="#000" stroke-width="2.6" />
<line x1="1492.50" y1="-0.50" x2="1492.50" y2="529.60" stroke="#000" stroke-width="2.6" />
<line x1="1978.60" y1="-0.50" x2="1978.60" y2="529.60" stroke="#000" stroke-width="2.6" />
<line x1="1553.26" y1="10.50" x2="1553.26" y2="21.50" stroke="#000" stroke-width="2.6" />
<line x1="1553.26" y1="507.60" x2="1553.26" y2="518.60" stroke="#000" stroke-width="2.6" />
<line x1="1614.03" y1="-0.50" x2="1614.03" y2="21.50" stroke="#000" stroke-width="2.6" />
<line x1="1614.03" y1="507.60" x2="1614.03" y2="529.60" stroke="#000" stroke-width="2.6" />
<line x1="1674.79" y1="10.50" x2="1674.79" y2="21.50" stroke="#000" stroke-width="2.6" />
<line x1="1674.79" y1="507.60" x2="1674.79" y2="518.60" stroke="#000" stroke-width="2.6" />
<line x1="1735.55" y1="-0.50" x2="1735.55" y2="21.50" stroke="#000" stroke-width="2.6" />
<line x1="1735.55" y1="507.60" x2="1735.55" y2="529.60" stroke="#000" stroke-width="2.6" />
<line x1="1796.31" y1="10.50" x2="1796.31" y2="21.50" stroke="#000" stroke-width="2.6" />
<line x1="1796.31" y1="507.60" x2="1796.31" y2="518.60" stroke="#000" stroke-width="2.6" />
<line x1="1857.07" y1="-0.50" x2="1857.07" y2="21.50" stroke="#000" stroke-width="2.6" />
<line x1="1857.07" y1="507.60" x2="1857.07" y2="529.60" stroke="#000" stroke-width="2.6" />
<line x1="1917.84" y1="10.50" x2="1917.84" y2="21.50" stroke="#000" stroke-width="2.6" />
<line x1="1917.84" y1="507.60" x2="1917.84" y2="518.60" stroke="#000" stroke-width="2.6" />
<line x1="1481.50" y1="82.26" x2="1492.50" y2="82.26" stroke="#000" stroke-width="2.6" />
<line x1="1978.60" y1="82.26" x2="1989.60" y2="82.26" stroke="#000" stroke-width="2.6" />
<line x1="1470.50" y1="143.03" x2="1492.50" y2="143.03" stroke="#000" stroke-width="2.6" />
<line x1="1978.60" y1="143.03" x2="2000.60" y2="143.03" stroke="#000" stroke-width="2.6" />
<line x1="1481.50" y1="203.79" x2="1492.50" y2="203.79" stroke="#000" stroke-width="2.6" />
<line x1="1978.60" y1="203.79" x2="1989.60" y2="203.79" stroke="#000" stroke-width="2.6" />
<line x1="1470.50" y1="264.55" x2="1492.50" y2="264.55" stroke="#000" stroke-width="2.6" />
<line x1="1978.60" y1="264.55" x2="2000.60" y2="264.55" stroke="#000" stroke-width="2.6" />
<line x1="1481.50" y1="325.31" x2="1492.50" y2="325.31" stroke="#000" stroke-width="2.6" />
<line x1="1978.60" y1="325.31" x2="1989.60" y2="325.31" stroke="#000" stroke-width="2.6" />
<line x1="1470.50" y1="386.08" x2="1492.50" y2="386.08" stroke="#000" stroke-width="2.6" />
<line x1="1978.60" y1="386.08" x2="2000.60" y2="386.08" stroke="#000" stroke-width="2.6" />
<line x1="1481.50" y1="446.84" x2="1492.50" y2="446.84" stroke="#000" stroke-width="2.6" />
<line x1="1978.60" y1="446.84" x2="1989.60" y2="446.84" stroke="#000" stroke-width="2.6" />
<text x="0" y="0" text-anchor="end" fill="#000" stroke="#000" stroke-width="0.38" style="font-family:'Liberation Sans',sans-serif;font-size:30.4px;" transform="translate(1461.10 518.50) scale(1 1.03)">0</text>
<text x="0" y="0" text-anchor="end" fill="#000" stroke="#000" stroke-width="0.38" style="font-family:'Liberation Sans',sans-serif;font-size:30.4px;" transform="translate(1461.10 396.98) scale(1 1.03)">5</text>
<text x="0" y="0" text-anchor="end" fill="#000" stroke="#000" stroke-width="0.38" style="font-family:'Liberation Sans',sans-serif;font-size:30.4px;" transform="translate(1461.10 275.45) scale(1 1.03)">10</text>
<text x="0" y="0" text-anchor="end" fill="#000" stroke="#000" stroke-width="0.38" style="font-family:'Liberation Sans',sans-serif;font-size:30.4px;" transform="translate(1461.10 153.93) scale(1 1.03)">15</text>
<text x="0" y="0" text-anchor="end" fill="#000" stroke="#000" stroke-width="0.38" style="font-family:'Liberation Sans',sans-serif;font-size:30.4px;" transform="translate(1461.10 32.40) scale(1 1.03)">20</text>
<text x="0" y="0" text-anchor="middle" fill="#000" stroke="#000" stroke-width="0.38" style="font-family:'Liberation Sans',sans-serif;font-size:30.4px;" transform="translate(1493.10 561.30) scale(1 1.03)">-2</text>
<text x="0" y="0" text-anchor="middle" fill="#000" stroke="#000" stroke-width="0.38" style="font-family:'Liberation Sans',sans-serif;font-size:30.4px;" transform="translate(1614.62 561.30) scale(1 1.03)">-1</text>
<text x="0" y="0" text-anchor="middle" fill="#000" stroke="#000" stroke-width="0.38" style="font-family:'Liberation Sans',sans-serif;font-size:30.4px;" transform="translate(1735.85 561.30) scale(1 1.03)">0</text>
<text x="0" y="0" text-anchor="middle" fill="#000" stroke="#000" stroke-width="0.38" style="font-family:'Liberation Sans',sans-serif;font-size:30.4px;" transform="translate(1857.37 561.30) scale(1 1.03)">1</text>
<text x="0" y="0" text-anchor="middle" fill="#000" stroke="#000" stroke-width="0.38" style="font-family:'Liberation Sans',sans-serif;font-size:30.4px;" transform="translate(1978.90 561.30) scale(1 1.03)">2</text>
<text x="0" y="0" text-anchor="middle" fill="#000" stroke="#000" stroke-width="0.38" style="font-family:'Liberation Sans',sans-serif;font-size:30.2px;" transform="translate(1736.80 607.00) scale(1 1.035)">Error of prediction (log[mol SiO<tspan font-size="20.8" dy="11.3">2</tspan><tspan dy="-11.3">/cm</tspan><tspan font-size="20.8" dy="-17.3">2</tspan><tspan dy="17.3">/s])</tspan></text>
<text x="0" y="0" text-anchor="middle" fill="#000" stroke="#000" stroke-width="0.38" style="font-family:'Liberation Sans',sans-serif;font-size:30.2px;" transform="translate(1409.70 263.55) rotate(-90) scale(1 1.035)">Distribution intensity (a.u.)</text>
<line x1="1504.90" y1="47.00" x2="1548.30" y2="47.00" stroke="#000" stroke-width="3.5" />
<line x1="1504.9" y1="86.9" x2="1547.2" y2="86.9" stroke="#000" stroke-width="3.5" stroke-dasharray="16.2 9.6"/>
<text x="0" y="0" text-anchor="start" fill="#000" stroke="#000" stroke-width="0.38" style="font-family:'Liberation Sans',sans-serif;font-size:30.5px;" transform="translate(1569.80 55.00) scale(1 1.035)">Training set (Glasses A)</text>
<text x="0" y="0" text-anchor="start" fill="#000" stroke="#000" stroke-width="0.38" style="font-family:'Liberation Sans',sans-serif;font-size:30.5px;" transform="translate(1569.80 94.60) scale(1 1.035)">Test set (Glasses B)</text>
<text x="0" y="0" text-anchor="start" fill="#f00" stroke="#f00" stroke-width="0.4" style="font-family:'Liberation Sans',sans-serif;font-size:24.4px;font-style:italic" transform="translate(1555.60 408.90) scale(1 1.035)">Model IV</text>
<text x="0" y="0" text-anchor="start" fill="#000" stroke="#000" stroke-width="0.4" style="font-family:'Liberation Sans',sans-serif;font-size:24.4px;font-style:italic" transform="translate(1874.20 406.90) scale(1 1.035)">Model III</text>
<path d="M1632.7 413.9L1648 441.2" stroke="#f00" stroke-width="3.3" fill="none"/>
<path d="M1638.2 435.2L1648.3 441.8L1649.1 429.6" stroke="#f00" stroke-width="3.2" fill="none" stroke-miterlimit="10"/>
<path d="M1897.8 412.9L1881.2 440.2" stroke="#000" stroke-width="3.3" fill="none"/>
<path d="M1880.4 429.2L1880.9 440.8L1891.4 434.9" stroke="#000" stroke-width="3.2" fill="none" stroke-miterlimit="10"/>
<text x="0" y="0" text-anchor="middle" fill="#000" stroke="#000" stroke-width="0.2" style="font-family:'Liberation Serif',serif;font-size:47px;font-weight:bold" transform="translate(1692.00 672.70) scale(1 1.02)">(c)</text>
</svg>
</body></html>
